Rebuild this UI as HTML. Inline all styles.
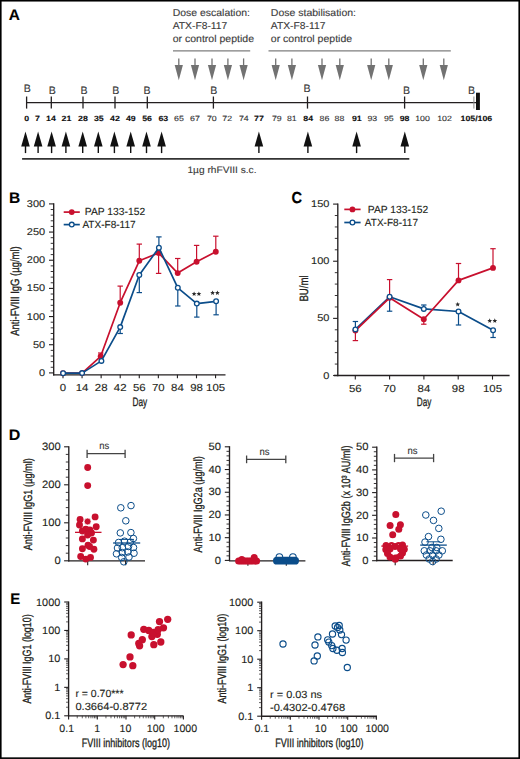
<!DOCTYPE html>
<html><head><meta charset="utf-8"><title>Figure</title>
<style>
html,body{margin:0;padding:0;background:#fff;}
body{width:520px;height:759px;overflow:hidden;font-family:"Liberation Sans",sans-serif;}
svg{display:block;font-family:"Liberation Sans",sans-serif;text-rendering:geometricPrecision;}
</style></head><body>
<svg width="520" height="759" viewBox="0 0 520 759">
<rect x="0" y="0" width="520" height="759" fill="#fff"/>
<rect x="0.8" y="0.75" width="518.4" height="757.4" fill="none" stroke="#000" stroke-width="1.6"/>
<text transform="translate(8.85,19.60) scale(1.007,1)" font-size="15.33" text-anchor="start" fill="#000" font-weight="bold" stroke="#000" stroke-width="0.12" >A</text>
<text transform="translate(172.70,16.30) scale(1.045,1)" font-size="10.0" text-anchor="start" fill="#3a3a3a" stroke="#3a3a3a" stroke-width="0.12" >Dose escalation:</text>
<text transform="translate(172.70,29.30) scale(1.030,1)" font-size="10.0" text-anchor="start" fill="#3a3a3a" stroke="#3a3a3a" stroke-width="0.12" >ATX-F8-117</text>
<text transform="translate(172.70,42.30) scale(1.052,1)" font-size="10.0" text-anchor="start" fill="#3a3a3a" stroke="#3a3a3a" stroke-width="0.12" >or control peptide</text>
<text transform="translate(270.80,16.40) scale(1.050,1)" font-size="10.0" text-anchor="start" fill="#3a3a3a" stroke="#3a3a3a" stroke-width="0.12" >Dose stabilisation:</text>
<text transform="translate(270.80,29.40) scale(1.030,1)" font-size="10.0" text-anchor="start" fill="#3a3a3a" stroke="#3a3a3a" stroke-width="0.12" >ATX-F8-117</text>
<text transform="translate(270.80,42.40) scale(1.052,1)" font-size="10.0" text-anchor="start" fill="#3a3a3a" stroke="#3a3a3a" stroke-width="0.12" >or control peptide</text>
<line x1="173.00" y1="50.90" x2="250.20" y2="50.90" stroke="#7e7e7e" stroke-width="1.4" />
<line x1="268.50" y1="50.90" x2="450.80" y2="50.90" stroke="#7e7e7e" stroke-width="1.4" />
<line x1="178.80" y1="58.40" x2="178.80" y2="66.00" stroke="#727272" stroke-width="1.3" />
<polygon points="174.70,65.00 182.90,65.00 178.80,80.20" fill="#727272"/>
<line x1="195.00" y1="58.40" x2="195.00" y2="66.00" stroke="#727272" stroke-width="1.3" />
<polygon points="190.90,65.00 199.10,65.00 195.00,80.20" fill="#727272"/>
<line x1="212.00" y1="58.40" x2="212.00" y2="66.00" stroke="#727272" stroke-width="1.3" />
<polygon points="207.90,65.00 216.10,65.00 212.00,80.20" fill="#727272"/>
<line x1="227.90" y1="58.40" x2="227.90" y2="66.00" stroke="#727272" stroke-width="1.3" />
<polygon points="223.80,65.00 232.00,65.00 227.90,80.20" fill="#727272"/>
<line x1="243.60" y1="58.40" x2="243.60" y2="66.00" stroke="#727272" stroke-width="1.3" />
<polygon points="239.50,65.00 247.70,65.00 243.60,80.20" fill="#727272"/>
<line x1="275.70" y1="58.40" x2="275.70" y2="66.00" stroke="#727272" stroke-width="1.3" />
<polygon points="271.60,65.00 279.80,65.00 275.70,80.20" fill="#727272"/>
<line x1="291.90" y1="58.40" x2="291.90" y2="66.00" stroke="#727272" stroke-width="1.3" />
<polygon points="287.80,65.00 296.00,65.00 291.90,80.20" fill="#727272"/>
<line x1="322.00" y1="58.40" x2="322.00" y2="66.00" stroke="#727272" stroke-width="1.3" />
<polygon points="317.90,65.00 326.10,65.00 322.00,80.20" fill="#727272"/>
<line x1="339.80" y1="58.40" x2="339.80" y2="66.00" stroke="#727272" stroke-width="1.3" />
<polygon points="335.70,65.00 343.90,65.00 339.80,80.20" fill="#727272"/>
<line x1="371.20" y1="58.40" x2="371.20" y2="66.00" stroke="#727272" stroke-width="1.3" />
<polygon points="367.10,65.00 375.30,65.00 371.20,80.20" fill="#727272"/>
<line x1="388.80" y1="58.40" x2="388.80" y2="66.00" stroke="#727272" stroke-width="1.3" />
<polygon points="384.70,65.00 392.90,65.00 388.80,80.20" fill="#727272"/>
<line x1="423.30" y1="58.40" x2="423.30" y2="66.00" stroke="#727272" stroke-width="1.3" />
<polygon points="419.20,65.00 427.40,65.00 423.30,80.20" fill="#727272"/>
<line x1="443.80" y1="58.40" x2="443.80" y2="66.00" stroke="#727272" stroke-width="1.3" />
<polygon points="439.70,65.00 447.90,65.00 443.80,80.20" fill="#727272"/>
<line x1="26.50" y1="102.60" x2="476.50" y2="102.60" stroke="#231f20" stroke-width="1.3" />
<line x1="26.60" y1="96.50" x2="26.60" y2="108.60" stroke="#231f20" stroke-width="1.3" />
<line x1="51.30" y1="96.50" x2="51.30" y2="108.60" stroke="#231f20" stroke-width="1.3" />
<line x1="83.00" y1="96.50" x2="83.00" y2="108.60" stroke="#231f20" stroke-width="1.3" />
<line x1="115.00" y1="96.50" x2="115.00" y2="108.60" stroke="#231f20" stroke-width="1.3" />
<line x1="147.30" y1="96.50" x2="147.30" y2="108.60" stroke="#231f20" stroke-width="1.3" />
<line x1="213.40" y1="96.50" x2="213.40" y2="108.60" stroke="#231f20" stroke-width="1.3" />
<line x1="307.50" y1="96.50" x2="307.50" y2="108.60" stroke="#231f20" stroke-width="1.3" />
<line x1="404.60" y1="96.50" x2="404.60" y2="108.60" stroke="#231f20" stroke-width="1.3" />
<line x1="473.90" y1="96.50" x2="473.90" y2="108.60" stroke="#8a8a8a" stroke-width="1.0" />
<rect x="476" y="92.7" width="3.9" height="17.3" fill="#111"/>
<text transform="translate(27.30,91.90) scale(0.980,1)" font-size="10.8" text-anchor="middle" fill="#3a3a3a" stroke="#3a3a3a" stroke-width="0.12" >B</text>
<text transform="translate(52.35,93.70) scale(0.980,1)" font-size="10.8" text-anchor="middle" fill="#3a3a3a" stroke="#3a3a3a" stroke-width="0.12" >B</text>
<text transform="translate(83.90,93.60) scale(0.980,1)" font-size="10.8" text-anchor="middle" fill="#3a3a3a" stroke="#3a3a3a" stroke-width="0.12" >B</text>
<text transform="translate(115.70,93.60) scale(0.980,1)" font-size="10.8" text-anchor="middle" fill="#3a3a3a" stroke="#3a3a3a" stroke-width="0.12" >B</text>
<text transform="translate(146.90,93.60) scale(0.980,1)" font-size="10.8" text-anchor="middle" fill="#3a3a3a" stroke="#3a3a3a" stroke-width="0.12" >B</text>
<text transform="translate(213.70,93.50) scale(0.980,1)" font-size="10.8" text-anchor="middle" fill="#3a3a3a" stroke="#3a3a3a" stroke-width="0.12" >B</text>
<text transform="translate(307.10,91.70) scale(0.980,1)" font-size="10.8" text-anchor="middle" fill="#3a3a3a" stroke="#3a3a3a" stroke-width="0.12" >B</text>
<text transform="translate(406.40,93.80) scale(0.980,1)" font-size="10.8" text-anchor="middle" fill="#3a3a3a" stroke="#3a3a3a" stroke-width="0.12" >B</text>
<text transform="translate(471.50,93.80) scale(0.980,1)" font-size="10.8" text-anchor="middle" fill="#3a3a3a" stroke="#3a3a3a" stroke-width="0.12" >B</text>
<text transform="translate(26.75,120.90) scale(1.170,1)" font-size="7.5" text-anchor="middle" fill="#111" font-weight="bold" stroke="#111" stroke-width="0.12" >0</text>
<text transform="translate(37.50,120.90) scale(1.170,1)" font-size="7.5" text-anchor="middle" fill="#111" font-weight="bold" stroke="#111" stroke-width="0.12" >7</text>
<text transform="translate(50.90,120.90) scale(1.170,1)" font-size="7.5" text-anchor="middle" fill="#111" font-weight="bold" stroke="#111" stroke-width="0.12" >14</text>
<text transform="translate(66.50,120.90) scale(1.170,1)" font-size="7.5" text-anchor="middle" fill="#111" font-weight="bold" stroke="#111" stroke-width="0.12" >21</text>
<text transform="translate(82.90,120.90) scale(1.170,1)" font-size="7.5" text-anchor="middle" fill="#111" font-weight="bold" stroke="#111" stroke-width="0.12" >28</text>
<text transform="translate(98.80,120.90) scale(1.170,1)" font-size="7.5" text-anchor="middle" fill="#111" font-weight="bold" stroke="#111" stroke-width="0.12" >35</text>
<text transform="translate(115.00,120.90) scale(1.170,1)" font-size="7.5" text-anchor="middle" fill="#111" font-weight="bold" stroke="#111" stroke-width="0.12" >42</text>
<text transform="translate(130.80,120.90) scale(1.170,1)" font-size="7.5" text-anchor="middle" fill="#111" font-weight="bold" stroke="#111" stroke-width="0.12" >49</text>
<text transform="translate(147.10,120.90) scale(1.170,1)" font-size="7.5" text-anchor="middle" fill="#111" font-weight="bold" stroke="#111" stroke-width="0.12" >56</text>
<text transform="translate(163.30,120.90) scale(1.170,1)" font-size="7.5" text-anchor="middle" fill="#111" font-weight="bold" stroke="#111" stroke-width="0.12" >63</text>
<text transform="translate(179.00,120.90) scale(1.170,1)" font-size="7.5" text-anchor="middle" fill="#333" stroke="#333" stroke-width="0.12" >65</text>
<text transform="translate(195.00,120.90) scale(1.170,1)" font-size="7.5" text-anchor="middle" fill="#333" stroke="#333" stroke-width="0.12" >67</text>
<text transform="translate(211.80,120.90) scale(1.170,1)" font-size="7.5" text-anchor="middle" fill="#333" stroke="#333" stroke-width="0.12" >70</text>
<text transform="translate(227.20,120.90) scale(1.170,1)" font-size="7.5" text-anchor="middle" fill="#333" stroke="#333" stroke-width="0.12" >72</text>
<text transform="translate(243.80,120.90) scale(1.170,1)" font-size="7.5" text-anchor="middle" fill="#333" stroke="#333" stroke-width="0.12" >74</text>
<text transform="translate(258.90,120.90) scale(1.170,1)" font-size="7.5" text-anchor="middle" fill="#111" font-weight="bold" stroke="#111" stroke-width="0.12" >77</text>
<text transform="translate(276.80,120.90) scale(1.170,1)" font-size="7.5" text-anchor="middle" fill="#333" stroke="#333" stroke-width="0.12" >79</text>
<text transform="translate(291.80,120.90) scale(1.170,1)" font-size="7.5" text-anchor="middle" fill="#333" stroke="#333" stroke-width="0.12" >81</text>
<text transform="translate(308.20,120.90) scale(1.170,1)" font-size="7.5" text-anchor="middle" fill="#111" font-weight="bold" stroke="#111" stroke-width="0.12" >84</text>
<text transform="translate(324.50,120.90) scale(1.170,1)" font-size="7.5" text-anchor="middle" fill="#333" stroke="#333" stroke-width="0.12" >86</text>
<text transform="translate(339.50,120.90) scale(1.170,1)" font-size="7.5" text-anchor="middle" fill="#333" stroke="#333" stroke-width="0.12" >88</text>
<text transform="translate(356.80,120.90) scale(1.170,1)" font-size="7.5" text-anchor="middle" fill="#111" font-weight="bold" stroke="#111" stroke-width="0.12" >91</text>
<text transform="translate(372.30,120.90) scale(1.170,1)" font-size="7.5" text-anchor="middle" fill="#333" stroke="#333" stroke-width="0.12" >93</text>
<text transform="translate(388.80,120.90) scale(1.170,1)" font-size="7.5" text-anchor="middle" fill="#333" stroke="#333" stroke-width="0.12" >95</text>
<text transform="translate(404.60,120.90) scale(1.170,1)" font-size="7.5" text-anchor="middle" fill="#111" font-weight="bold" stroke="#111" stroke-width="0.12" >98</text>
<text transform="translate(422.50,120.90) scale(1.170,1)" font-size="7.5" text-anchor="middle" fill="#333" stroke="#333" stroke-width="0.12" >100</text>
<text transform="translate(444.50,120.90) scale(1.170,1)" font-size="7.5" text-anchor="middle" fill="#333" stroke="#333" stroke-width="0.12" >102</text>
<text transform="translate(476.40,120.90) scale(1.170,1)" font-size="7.5" text-anchor="middle" fill="#111" font-weight="bold" stroke="#111" stroke-width="0.12" >105/106</text>
<polygon points="21.20,146.60 29.80,146.60 25.50,131.60" fill="#111"/>
<line x1="25.50" y1="146.00" x2="25.50" y2="153.10" stroke="#111" stroke-width="1.4" />
<polygon points="33.80,146.60 42.40,146.60 38.10,131.60" fill="#111"/>
<line x1="38.10" y1="146.00" x2="38.10" y2="153.10" stroke="#111" stroke-width="1.4" />
<polygon points="47.30,146.60 55.90,146.60 51.60,131.60" fill="#111"/>
<line x1="51.60" y1="146.00" x2="51.60" y2="153.10" stroke="#111" stroke-width="1.4" />
<polygon points="61.60,146.60 70.20,146.60 65.90,131.60" fill="#111"/>
<line x1="65.90" y1="146.00" x2="65.90" y2="153.10" stroke="#111" stroke-width="1.4" />
<polygon points="78.40,146.60 87.00,146.60 82.70,131.60" fill="#111"/>
<line x1="82.70" y1="146.00" x2="82.70" y2="153.10" stroke="#111" stroke-width="1.4" />
<polygon points="94.00,146.60 102.60,146.60 98.30,131.60" fill="#111"/>
<line x1="98.30" y1="146.00" x2="98.30" y2="153.10" stroke="#111" stroke-width="1.4" />
<polygon points="110.10,146.60 118.70,146.60 114.40,131.60" fill="#111"/>
<line x1="114.40" y1="146.00" x2="114.40" y2="153.10" stroke="#111" stroke-width="1.4" />
<polygon points="126.40,146.60 135.00,146.60 130.70,131.60" fill="#111"/>
<line x1="130.70" y1="146.00" x2="130.70" y2="153.10" stroke="#111" stroke-width="1.4" />
<polygon points="142.20,146.60 150.80,146.60 146.50,131.60" fill="#111"/>
<line x1="146.50" y1="146.00" x2="146.50" y2="153.10" stroke="#111" stroke-width="1.4" />
<polygon points="157.30,146.60 165.90,146.60 161.60,131.60" fill="#111"/>
<line x1="161.60" y1="146.00" x2="161.60" y2="153.10" stroke="#111" stroke-width="1.4" />
<polygon points="254.60,146.60 263.20,146.60 258.90,131.60" fill="#111"/>
<line x1="258.90" y1="146.00" x2="258.90" y2="153.10" stroke="#111" stroke-width="1.4" />
<polygon points="303.60,146.60 312.20,146.60 307.90,131.60" fill="#111"/>
<line x1="307.90" y1="146.00" x2="307.90" y2="153.10" stroke="#111" stroke-width="1.4" />
<polygon points="352.30,146.60 360.90,146.60 356.60,131.60" fill="#111"/>
<line x1="356.60" y1="146.00" x2="356.60" y2="153.10" stroke="#111" stroke-width="1.4" />
<polygon points="400.50,146.60 409.10,146.60 404.80,131.60" fill="#111"/>
<line x1="404.80" y1="146.00" x2="404.80" y2="153.10" stroke="#111" stroke-width="1.4" />
<line x1="22.10" y1="158.90" x2="409.30" y2="158.90" stroke="#333" stroke-width="1.9" />
<text transform="translate(187.40,173.00) scale(1.070,1)" font-size="9.5" text-anchor="start" fill="#3a3a3a" stroke="#3a3a3a" stroke-width="0.12" >1µg rhFVIII s.c.</text>
<text transform="translate(9.06,202.60) scale(1.016,1)" font-size="15.33" text-anchor="start" fill="#000" font-weight="bold" stroke="#000" stroke-width="0.12" >B</text>
<line x1="53.70" y1="203.30" x2="53.70" y2="375.40" stroke="#231f20" stroke-width="1.35" />
<line x1="49.00" y1="372.90" x2="53.70" y2="372.90" stroke="#231f20" stroke-width="1.1" />
<text transform="translate(45.10,375.90) scale(1.120,1)" font-size="9.8" text-anchor="end" fill="#231f20" stroke="#231f20" stroke-width="0.12" >0</text>
<line x1="50.70" y1="367.27" x2="53.70" y2="367.27" stroke="#231f20" stroke-width="0.9" />
<line x1="50.70" y1="361.63" x2="53.70" y2="361.63" stroke="#231f20" stroke-width="0.9" />
<line x1="50.70" y1="356.00" x2="53.70" y2="356.00" stroke="#231f20" stroke-width="0.9" />
<line x1="50.70" y1="350.37" x2="53.70" y2="350.37" stroke="#231f20" stroke-width="0.9" />
<line x1="49.00" y1="344.73" x2="53.70" y2="344.73" stroke="#231f20" stroke-width="1.1" />
<text transform="translate(45.10,347.73) scale(1.120,1)" font-size="9.8" text-anchor="end" fill="#231f20" stroke="#231f20" stroke-width="0.12" >50</text>
<line x1="50.70" y1="339.10" x2="53.70" y2="339.10" stroke="#231f20" stroke-width="0.9" />
<line x1="50.70" y1="333.47" x2="53.70" y2="333.47" stroke="#231f20" stroke-width="0.9" />
<line x1="50.70" y1="327.83" x2="53.70" y2="327.83" stroke="#231f20" stroke-width="0.9" />
<line x1="50.70" y1="322.20" x2="53.70" y2="322.20" stroke="#231f20" stroke-width="0.9" />
<line x1="49.00" y1="316.57" x2="53.70" y2="316.57" stroke="#231f20" stroke-width="1.1" />
<text transform="translate(45.10,319.57) scale(1.120,1)" font-size="9.8" text-anchor="end" fill="#231f20" stroke="#231f20" stroke-width="0.12" >100</text>
<line x1="50.70" y1="310.93" x2="53.70" y2="310.93" stroke="#231f20" stroke-width="0.9" />
<line x1="50.70" y1="305.30" x2="53.70" y2="305.30" stroke="#231f20" stroke-width="0.9" />
<line x1="50.70" y1="299.67" x2="53.70" y2="299.67" stroke="#231f20" stroke-width="0.9" />
<line x1="50.70" y1="294.03" x2="53.70" y2="294.03" stroke="#231f20" stroke-width="0.9" />
<line x1="49.00" y1="288.40" x2="53.70" y2="288.40" stroke="#231f20" stroke-width="1.1" />
<text transform="translate(45.10,291.40) scale(1.120,1)" font-size="9.8" text-anchor="end" fill="#231f20" stroke="#231f20" stroke-width="0.12" >150</text>
<line x1="50.70" y1="282.77" x2="53.70" y2="282.77" stroke="#231f20" stroke-width="0.9" />
<line x1="50.70" y1="277.13" x2="53.70" y2="277.13" stroke="#231f20" stroke-width="0.9" />
<line x1="50.70" y1="271.50" x2="53.70" y2="271.50" stroke="#231f20" stroke-width="0.9" />
<line x1="50.70" y1="265.87" x2="53.70" y2="265.87" stroke="#231f20" stroke-width="0.9" />
<line x1="49.00" y1="260.23" x2="53.70" y2="260.23" stroke="#231f20" stroke-width="1.1" />
<text transform="translate(45.10,263.23) scale(1.120,1)" font-size="9.8" text-anchor="end" fill="#231f20" stroke="#231f20" stroke-width="0.12" >200</text>
<line x1="50.70" y1="254.60" x2="53.70" y2="254.60" stroke="#231f20" stroke-width="0.9" />
<line x1="50.70" y1="248.97" x2="53.70" y2="248.97" stroke="#231f20" stroke-width="0.9" />
<line x1="50.70" y1="243.33" x2="53.70" y2="243.33" stroke="#231f20" stroke-width="0.9" />
<line x1="50.70" y1="237.70" x2="53.70" y2="237.70" stroke="#231f20" stroke-width="0.9" />
<line x1="49.00" y1="232.07" x2="53.70" y2="232.07" stroke="#231f20" stroke-width="1.1" />
<text transform="translate(45.10,235.07) scale(1.120,1)" font-size="9.8" text-anchor="end" fill="#231f20" stroke="#231f20" stroke-width="0.12" >250</text>
<line x1="50.70" y1="226.43" x2="53.70" y2="226.43" stroke="#231f20" stroke-width="0.9" />
<line x1="50.70" y1="220.80" x2="53.70" y2="220.80" stroke="#231f20" stroke-width="0.9" />
<line x1="50.70" y1="215.17" x2="53.70" y2="215.17" stroke="#231f20" stroke-width="0.9" />
<line x1="50.70" y1="209.53" x2="53.70" y2="209.53" stroke="#231f20" stroke-width="0.9" />
<line x1="49.00" y1="203.90" x2="53.70" y2="203.90" stroke="#231f20" stroke-width="1.1" />
<text transform="translate(45.10,206.90) scale(1.120,1)" font-size="9.8" text-anchor="end" fill="#231f20" stroke="#231f20" stroke-width="0.12" >300</text>
<line x1="53.10" y1="374.80" x2="225.50" y2="374.80" stroke="#231f20" stroke-width="1.35" />
<line x1="63.00" y1="374.80" x2="63.00" y2="378.30" stroke="#231f20" stroke-width="1.1" />
<text transform="translate(63.00,391.30) scale(1.120,1)" font-size="10.2" text-anchor="middle" fill="#231f20" stroke="#231f20" stroke-width="0.12" >0</text>
<line x1="82.07" y1="374.80" x2="82.07" y2="378.30" stroke="#231f20" stroke-width="1.1" />
<text transform="translate(82.07,391.30) scale(1.120,1)" font-size="10.2" text-anchor="middle" fill="#231f20" stroke="#231f20" stroke-width="0.12" >14</text>
<line x1="101.14" y1="374.80" x2="101.14" y2="378.30" stroke="#231f20" stroke-width="1.1" />
<text transform="translate(101.14,391.30) scale(1.120,1)" font-size="10.2" text-anchor="middle" fill="#231f20" stroke="#231f20" stroke-width="0.12" >28</text>
<line x1="120.21" y1="374.80" x2="120.21" y2="378.30" stroke="#231f20" stroke-width="1.1" />
<text transform="translate(120.21,391.30) scale(1.120,1)" font-size="10.2" text-anchor="middle" fill="#231f20" stroke="#231f20" stroke-width="0.12" >42</text>
<line x1="139.28" y1="374.80" x2="139.28" y2="378.30" stroke="#231f20" stroke-width="1.1" />
<text transform="translate(139.28,391.30) scale(1.120,1)" font-size="10.2" text-anchor="middle" fill="#231f20" stroke="#231f20" stroke-width="0.12" >56</text>
<line x1="158.35" y1="374.80" x2="158.35" y2="378.30" stroke="#231f20" stroke-width="1.1" />
<text transform="translate(158.35,391.30) scale(1.120,1)" font-size="10.2" text-anchor="middle" fill="#231f20" stroke="#231f20" stroke-width="0.12" >70</text>
<line x1="177.42" y1="374.80" x2="177.42" y2="378.30" stroke="#231f20" stroke-width="1.1" />
<text transform="translate(177.42,391.30) scale(1.120,1)" font-size="10.2" text-anchor="middle" fill="#231f20" stroke="#231f20" stroke-width="0.12" >84</text>
<line x1="196.49" y1="374.80" x2="196.49" y2="378.30" stroke="#231f20" stroke-width="1.1" />
<text transform="translate(196.49,391.30) scale(1.120,1)" font-size="10.2" text-anchor="middle" fill="#231f20" stroke="#231f20" stroke-width="0.12" >98</text>
<line x1="215.56" y1="374.80" x2="215.56" y2="378.30" stroke="#231f20" stroke-width="1.1" />
<text transform="translate(215.56,391.30) scale(1.120,1)" font-size="10.2" text-anchor="middle" fill="#231f20" stroke="#231f20" stroke-width="0.12" >105</text>
<text transform="translate(139.85,405.70)" font-size="12.2" text-anchor="middle" fill="#231f20" textLength="14.7" lengthAdjust="spacingAndGlyphs" stroke="#231f20" stroke-width="0.32">Day</text>
<text transform="translate(19.00,291.05) rotate(-90)" font-size="12.0" text-anchor="middle" fill="#231f20" textLength="89.5" lengthAdjust="spacingAndGlyphs" stroke="#231f20" stroke-width="0.32">Anti-FVIII IgG (µg/ml)</text>
<line x1="100.70" y1="356.30" x2="100.70" y2="353.00" stroke="#c8102e" stroke-width="1.2" />
<line x1="98.00" y1="353.00" x2="103.40" y2="353.00" stroke="#c8102e" stroke-width="1.2" />
<line x1="120.20" y1="302.70" x2="120.20" y2="286.10" stroke="#c8102e" stroke-width="1.2" />
<line x1="117.50" y1="286.10" x2="122.90" y2="286.10" stroke="#c8102e" stroke-width="1.2" />
<line x1="139.30" y1="260.80" x2="139.30" y2="244.10" stroke="#c8102e" stroke-width="1.2" />
<line x1="136.60" y1="244.10" x2="142.00" y2="244.10" stroke="#c8102e" stroke-width="1.2" />
<line x1="158.60" y1="253.00" x2="158.60" y2="273.40" stroke="#c8102e" stroke-width="1.2" />
<line x1="155.90" y1="273.40" x2="161.30" y2="273.40" stroke="#c8102e" stroke-width="1.2" />
<line x1="177.70" y1="273.10" x2="177.70" y2="258.50" stroke="#c8102e" stroke-width="1.2" />
<line x1="175.00" y1="258.50" x2="180.40" y2="258.50" stroke="#c8102e" stroke-width="1.2" />
<line x1="196.60" y1="261.80" x2="196.60" y2="245.40" stroke="#c8102e" stroke-width="1.2" />
<line x1="193.90" y1="245.40" x2="199.30" y2="245.40" stroke="#c8102e" stroke-width="1.2" />
<line x1="215.80" y1="251.80" x2="215.80" y2="236.20" stroke="#c8102e" stroke-width="1.2" />
<line x1="213.10" y1="236.20" x2="218.50" y2="236.20" stroke="#c8102e" stroke-width="1.2" />
<line x1="120.20" y1="327.10" x2="120.20" y2="333.50" stroke="#0b4d8a" stroke-width="1.2" />
<line x1="117.50" y1="333.50" x2="122.90" y2="333.50" stroke="#0b4d8a" stroke-width="1.2" />
<line x1="139.30" y1="275.00" x2="139.30" y2="292.60" stroke="#0b4d8a" stroke-width="1.2" />
<line x1="136.60" y1="292.60" x2="142.00" y2="292.60" stroke="#0b4d8a" stroke-width="1.2" />
<line x1="158.90" y1="247.70" x2="158.90" y2="236.90" stroke="#0b4d8a" stroke-width="1.2" />
<line x1="156.20" y1="236.90" x2="161.60" y2="236.90" stroke="#0b4d8a" stroke-width="1.2" />
<line x1="177.80" y1="287.80" x2="177.80" y2="306.00" stroke="#0b4d8a" stroke-width="1.2" />
<line x1="175.10" y1="306.00" x2="180.50" y2="306.00" stroke="#0b4d8a" stroke-width="1.2" />
<line x1="196.80" y1="303.60" x2="196.80" y2="317.10" stroke="#0b4d8a" stroke-width="1.2" />
<line x1="194.10" y1="317.10" x2="199.50" y2="317.10" stroke="#0b4d8a" stroke-width="1.2" />
<line x1="216.10" y1="301.30" x2="216.10" y2="314.80" stroke="#0b4d8a" stroke-width="1.2" />
<line x1="213.40" y1="314.80" x2="218.80" y2="314.80" stroke="#0b4d8a" stroke-width="1.2" />
<path d="M63.00,373.20 L82.10,373.10 L100.70,356.30 L120.20,302.70 L139.30,260.80 L158.60,253.00 L177.70,273.10 L196.60,261.80 L215.80,251.80" fill="none" stroke="#c8102e" stroke-width="1.7" stroke-linejoin="round"/>
<circle cx="63.00" cy="373.20" r="2.95" fill="#c8102e" stroke="none" stroke-width="0"/>
<circle cx="82.10" cy="373.10" r="2.95" fill="#c8102e" stroke="none" stroke-width="0"/>
<circle cx="100.70" cy="356.30" r="2.95" fill="#c8102e" stroke="none" stroke-width="0"/>
<circle cx="120.20" cy="302.70" r="2.95" fill="#c8102e" stroke="none" stroke-width="0"/>
<circle cx="139.30" cy="260.80" r="2.95" fill="#c8102e" stroke="none" stroke-width="0"/>
<circle cx="158.60" cy="253.00" r="2.95" fill="#c8102e" stroke="none" stroke-width="0"/>
<circle cx="177.70" cy="273.10" r="2.95" fill="#c8102e" stroke="none" stroke-width="0"/>
<circle cx="196.60" cy="261.80" r="2.95" fill="#c8102e" stroke="none" stroke-width="0"/>
<circle cx="215.80" cy="251.80" r="2.95" fill="#c8102e" stroke="none" stroke-width="0"/>
<path d="M63.10,373.20 L82.10,373.10 L101.40,360.90 L120.20,327.10 L139.30,275.00 L158.90,247.70 L177.80,287.80 L196.80,303.60 L216.10,301.30" fill="none" stroke="#0b4d8a" stroke-width="1.7" stroke-linejoin="round"/>
<circle cx="63.10" cy="373.20" r="2.35" fill="#fff" stroke="#0b4d8a" stroke-width="1.3"/>
<circle cx="82.10" cy="373.10" r="2.35" fill="#fff" stroke="#0b4d8a" stroke-width="1.3"/>
<circle cx="101.40" cy="360.90" r="2.35" fill="#fff" stroke="#0b4d8a" stroke-width="1.3"/>
<circle cx="120.20" cy="327.10" r="2.35" fill="#fff" stroke="#0b4d8a" stroke-width="1.3"/>
<circle cx="139.30" cy="275.00" r="2.35" fill="#fff" stroke="#0b4d8a" stroke-width="1.3"/>
<circle cx="158.90" cy="247.70" r="2.35" fill="#fff" stroke="#0b4d8a" stroke-width="1.3"/>
<circle cx="177.80" cy="287.80" r="2.35" fill="#fff" stroke="#0b4d8a" stroke-width="1.3"/>
<circle cx="196.80" cy="303.60" r="2.35" fill="#fff" stroke="#0b4d8a" stroke-width="1.3"/>
<circle cx="216.10" cy="301.30" r="2.35" fill="#fff" stroke="#0b4d8a" stroke-width="1.3"/>
<polygon points="194.10,291.40 194.76,292.99 196.48,293.13 195.17,294.25 195.57,295.92 194.10,295.02 192.63,295.92 193.03,294.25 191.72,293.13 193.44,292.99" fill="#2a2a2a"/>
<polygon points="198.90,291.40 199.56,292.99 201.28,293.13 199.97,294.25 200.37,295.92 198.90,295.02 197.43,295.92 197.83,294.25 196.52,293.13 198.24,292.99" fill="#2a2a2a"/>
<polygon points="212.60,290.50 213.26,292.09 214.98,292.23 213.67,293.35 214.07,295.02 212.60,294.12 211.13,295.02 211.53,293.35 210.22,292.23 211.94,292.09" fill="#2a2a2a"/>
<polygon points="217.40,290.50 218.06,292.09 219.78,292.23 218.47,293.35 218.87,295.02 217.40,294.12 215.93,295.02 216.33,293.35 215.02,292.23 216.74,292.09" fill="#2a2a2a"/>
<line x1="63.70" y1="212.10" x2="79.80" y2="212.10" stroke="#c8102e" stroke-width="1.7" />
<circle cx="71.75" cy="212.10" r="2.9" fill="#c8102e" stroke="none" stroke-width="0"/>
<line x1="63.70" y1="224.60" x2="79.80" y2="224.60" stroke="#0b4d8a" stroke-width="1.7" />
<circle cx="71.75" cy="224.60" r="2.35" fill="#fff" stroke="#0b4d8a" stroke-width="1.3"/>
<text transform="translate(84.80,215.20)" font-size="10.3" text-anchor="start" fill="#231f20" stroke="#231f20" stroke-width="0.12" >PAP 133-152</text>
<text transform="translate(82.40,227.70) scale(0.975,1)" font-size="10.3" text-anchor="start" fill="#231f20" stroke="#231f20" stroke-width="0.12" >ATX-F8-117</text>
<text transform="translate(291.60,202.84) scale(0.920,1)" font-size="15.96" text-anchor="start" fill="#000" font-weight="bold" stroke="#000" stroke-width="0.12" >C</text>
<line x1="337.80" y1="203.50" x2="337.80" y2="376.20" stroke="#231f20" stroke-width="1.35" />
<line x1="333.10" y1="375.50" x2="337.80" y2="375.50" stroke="#231f20" stroke-width="1.1" />
<text transform="translate(329.40,378.50) scale(1.120,1)" font-size="9.8" text-anchor="end" fill="#231f20" stroke="#231f20" stroke-width="0.12" >0</text>
<line x1="334.80" y1="364.07" x2="337.80" y2="364.07" stroke="#231f20" stroke-width="0.9" />
<line x1="334.80" y1="352.65" x2="337.80" y2="352.65" stroke="#231f20" stroke-width="0.9" />
<line x1="334.80" y1="341.22" x2="337.80" y2="341.22" stroke="#231f20" stroke-width="0.9" />
<line x1="334.80" y1="329.79" x2="337.80" y2="329.79" stroke="#231f20" stroke-width="0.9" />
<line x1="333.10" y1="318.37" x2="337.80" y2="318.37" stroke="#231f20" stroke-width="1.1" />
<text transform="translate(329.40,321.37) scale(1.120,1)" font-size="9.8" text-anchor="end" fill="#231f20" stroke="#231f20" stroke-width="0.12" >50</text>
<line x1="334.80" y1="306.94" x2="337.80" y2="306.94" stroke="#231f20" stroke-width="0.9" />
<line x1="334.80" y1="295.51" x2="337.80" y2="295.51" stroke="#231f20" stroke-width="0.9" />
<line x1="334.80" y1="284.09" x2="337.80" y2="284.09" stroke="#231f20" stroke-width="0.9" />
<line x1="334.80" y1="272.66" x2="337.80" y2="272.66" stroke="#231f20" stroke-width="0.9" />
<line x1="333.10" y1="261.23" x2="337.80" y2="261.23" stroke="#231f20" stroke-width="1.1" />
<text transform="translate(329.40,264.23) scale(1.120,1)" font-size="9.8" text-anchor="end" fill="#231f20" stroke="#231f20" stroke-width="0.12" >100</text>
<line x1="334.80" y1="249.81" x2="337.80" y2="249.81" stroke="#231f20" stroke-width="0.9" />
<line x1="334.80" y1="238.38" x2="337.80" y2="238.38" stroke="#231f20" stroke-width="0.9" />
<line x1="334.80" y1="226.95" x2="337.80" y2="226.95" stroke="#231f20" stroke-width="0.9" />
<line x1="334.80" y1="215.53" x2="337.80" y2="215.53" stroke="#231f20" stroke-width="0.9" />
<line x1="333.10" y1="204.10" x2="337.80" y2="204.10" stroke="#231f20" stroke-width="1.1" />
<text transform="translate(329.40,207.10) scale(1.120,1)" font-size="9.8" text-anchor="end" fill="#231f20" stroke="#231f20" stroke-width="0.12" >150</text>
<line x1="334.00" y1="375.50" x2="509.60" y2="375.50" stroke="#231f20" stroke-width="1.35" />
<line x1="355.30" y1="375.50" x2="355.30" y2="379.60" stroke="#231f20" stroke-width="1.1" />
<text transform="translate(355.30,392.20) scale(1.120,1)" font-size="10.2" text-anchor="middle" fill="#231f20" stroke="#231f20" stroke-width="0.12" >56</text>
<line x1="389.60" y1="375.50" x2="389.60" y2="379.60" stroke="#231f20" stroke-width="1.1" />
<text transform="translate(389.60,392.20) scale(1.120,1)" font-size="10.2" text-anchor="middle" fill="#231f20" stroke="#231f20" stroke-width="0.12" >70</text>
<line x1="423.90" y1="375.50" x2="423.90" y2="379.60" stroke="#231f20" stroke-width="1.1" />
<text transform="translate(423.90,392.20) scale(1.120,1)" font-size="10.2" text-anchor="middle" fill="#231f20" stroke="#231f20" stroke-width="0.12" >84</text>
<line x1="458.20" y1="375.50" x2="458.20" y2="379.60" stroke="#231f20" stroke-width="1.1" />
<text transform="translate(458.20,392.20) scale(1.120,1)" font-size="10.2" text-anchor="middle" fill="#231f20" stroke="#231f20" stroke-width="0.12" >98</text>
<line x1="492.50" y1="375.50" x2="492.50" y2="379.60" stroke="#231f20" stroke-width="1.1" />
<text transform="translate(492.50,392.20) scale(1.120,1)" font-size="10.2" text-anchor="middle" fill="#231f20" stroke="#231f20" stroke-width="0.12" >105</text>
<text transform="translate(424.00,405.70)" font-size="12.2" text-anchor="middle" fill="#231f20" textLength="14.6" lengthAdjust="spacingAndGlyphs" stroke="#231f20" stroke-width="0.32">Day</text>
<text transform="translate(307.70,288.45) rotate(-90)" font-size="12.0" text-anchor="middle" fill="#231f20" textLength="26.3" lengthAdjust="spacingAndGlyphs" stroke="#231f20" stroke-width="0.32">BU/ml</text>
<line x1="355.40" y1="329.40" x2="355.40" y2="321.50" stroke="#0b4d8a" stroke-width="1.2" />
<line x1="352.70" y1="321.50" x2="358.10" y2="321.50" stroke="#0b4d8a" stroke-width="1.2" />
<line x1="389.60" y1="296.80" x2="389.60" y2="311.20" stroke="#0b4d8a" stroke-width="1.2" />
<line x1="386.90" y1="311.20" x2="392.30" y2="311.20" stroke="#0b4d8a" stroke-width="1.2" />
<line x1="423.80" y1="308.90" x2="423.80" y2="305.00" stroke="#0b4d8a" stroke-width="1.2" />
<line x1="421.10" y1="305.00" x2="426.50" y2="305.00" stroke="#0b4d8a" stroke-width="1.2" />
<line x1="458.50" y1="311.50" x2="458.50" y2="325.00" stroke="#0b4d8a" stroke-width="1.2" />
<line x1="455.80" y1="325.00" x2="461.20" y2="325.00" stroke="#0b4d8a" stroke-width="1.2" />
<line x1="493.10" y1="330.20" x2="493.10" y2="337.50" stroke="#0b4d8a" stroke-width="1.2" />
<line x1="490.40" y1="337.50" x2="495.80" y2="337.50" stroke="#0b4d8a" stroke-width="1.2" />
<line x1="355.40" y1="330.60" x2="355.40" y2="340.60" stroke="#c8102e" stroke-width="1.2" />
<line x1="352.70" y1="340.60" x2="358.10" y2="340.60" stroke="#c8102e" stroke-width="1.2" />
<line x1="389.60" y1="297.80" x2="389.60" y2="279.60" stroke="#c8102e" stroke-width="1.2" />
<line x1="386.90" y1="279.60" x2="392.30" y2="279.60" stroke="#c8102e" stroke-width="1.2" />
<line x1="423.80" y1="319.30" x2="423.80" y2="324.20" stroke="#c8102e" stroke-width="1.2" />
<line x1="421.10" y1="324.20" x2="426.50" y2="324.20" stroke="#c8102e" stroke-width="1.2" />
<line x1="458.50" y1="280.40" x2="458.50" y2="263.50" stroke="#c8102e" stroke-width="1.2" />
<line x1="455.80" y1="263.50" x2="461.20" y2="263.50" stroke="#c8102e" stroke-width="1.2" />
<line x1="493.00" y1="267.90" x2="493.00" y2="248.70" stroke="#c8102e" stroke-width="1.2" />
<line x1="490.30" y1="248.70" x2="495.70" y2="248.70" stroke="#c8102e" stroke-width="1.2" />
<path d="M355.40,329.40 L389.60,296.80 L423.80,308.90 L458.50,311.50 L493.10,330.20" fill="none" stroke="#0b4d8a" stroke-width="1.7" stroke-linejoin="round"/>
<path d="M355.40,330.60 L389.60,297.80 L423.80,319.30 L458.50,280.40 L493.00,267.90" fill="none" stroke="#c8102e" stroke-width="1.7" stroke-linejoin="round"/>
<circle cx="355.40" cy="330.60" r="2.95" fill="#c8102e" stroke="none" stroke-width="0"/>
<circle cx="389.60" cy="297.80" r="2.95" fill="#c8102e" stroke="none" stroke-width="0"/>
<circle cx="423.80" cy="319.30" r="2.95" fill="#c8102e" stroke="none" stroke-width="0"/>
<circle cx="458.50" cy="280.40" r="2.95" fill="#c8102e" stroke="none" stroke-width="0"/>
<circle cx="493.00" cy="267.90" r="2.95" fill="#c8102e" stroke="none" stroke-width="0"/>
<circle cx="355.40" cy="329.40" r="2.35" fill="#fff" stroke="#0b4d8a" stroke-width="1.3"/>
<circle cx="389.60" cy="296.80" r="2.35" fill="#fff" stroke="#0b4d8a" stroke-width="1.3"/>
<circle cx="423.80" cy="308.90" r="2.35" fill="#fff" stroke="#0b4d8a" stroke-width="1.3"/>
<circle cx="458.50" cy="311.50" r="2.35" fill="#fff" stroke="#0b4d8a" stroke-width="1.3"/>
<circle cx="493.10" cy="330.20" r="2.35" fill="#fff" stroke="#0b4d8a" stroke-width="1.3"/>
<polygon points="457.70,301.90 458.36,303.49 460.08,303.63 458.77,304.75 459.17,306.42 457.70,305.52 456.23,306.42 456.63,304.75 455.32,303.63 457.04,303.49" fill="#2a2a2a"/>
<polygon points="489.70,318.30 490.36,319.89 492.08,320.03 490.77,321.15 491.17,322.82 489.70,321.93 488.23,322.82 488.63,321.15 487.32,320.03 489.04,319.89" fill="#2a2a2a"/>
<polygon points="494.80,318.30 495.46,319.89 497.18,320.03 495.87,321.15 496.27,322.82 494.80,321.93 493.33,322.82 493.73,321.15 492.42,320.03 494.14,319.89" fill="#2a2a2a"/>
<line x1="344.30" y1="209.40" x2="360.60" y2="209.40" stroke="#c8102e" stroke-width="1.7" />
<circle cx="352.45" cy="209.40" r="2.9" fill="#c8102e" stroke="none" stroke-width="0"/>
<line x1="344.30" y1="222.50" x2="360.60" y2="222.50" stroke="#0b4d8a" stroke-width="1.7" />
<circle cx="352.45" cy="222.50" r="2.35" fill="#fff" stroke="#0b4d8a" stroke-width="1.3"/>
<text transform="translate(367.80,212.50)" font-size="10.3" text-anchor="start" fill="#231f20" stroke="#231f20" stroke-width="0.12" >PAP 133-152</text>
<text transform="translate(364.80,225.60) scale(0.975,1)" font-size="10.3" text-anchor="start" fill="#231f20" stroke="#231f20" stroke-width="0.12" >ATX-F8-117</text>
<text transform="translate(8.73,439.60) scale(1.043,1)" font-size="15.33" text-anchor="start" fill="#000" font-weight="bold" stroke="#000" stroke-width="0.12" >D</text>
<line x1="68.80" y1="446.20" x2="68.80" y2="561.40" stroke="#231f20" stroke-width="1.35" />
<line x1="64.10" y1="560.80" x2="68.80" y2="560.80" stroke="#231f20" stroke-width="1.1" />
<text transform="translate(60.80,563.70) scale(1.060,1)" font-size="10.6" text-anchor="end" fill="#231f20" stroke="#231f20" stroke-width="0.12" >0</text>
<line x1="65.80" y1="553.20" x2="68.80" y2="553.20" stroke="#231f20" stroke-width="0.9" />
<line x1="65.80" y1="545.60" x2="68.80" y2="545.60" stroke="#231f20" stroke-width="0.9" />
<line x1="65.80" y1="538.00" x2="68.80" y2="538.00" stroke="#231f20" stroke-width="0.9" />
<line x1="65.80" y1="530.40" x2="68.80" y2="530.40" stroke="#231f20" stroke-width="0.9" />
<line x1="64.10" y1="522.80" x2="68.80" y2="522.80" stroke="#231f20" stroke-width="1.1" />
<text transform="translate(60.80,525.70) scale(1.060,1)" font-size="10.6" text-anchor="end" fill="#231f20" stroke="#231f20" stroke-width="0.12" >100</text>
<line x1="65.80" y1="515.20" x2="68.80" y2="515.20" stroke="#231f20" stroke-width="0.9" />
<line x1="65.80" y1="507.60" x2="68.80" y2="507.60" stroke="#231f20" stroke-width="0.9" />
<line x1="65.80" y1="500.00" x2="68.80" y2="500.00" stroke="#231f20" stroke-width="0.9" />
<line x1="65.80" y1="492.40" x2="68.80" y2="492.40" stroke="#231f20" stroke-width="0.9" />
<line x1="64.10" y1="484.80" x2="68.80" y2="484.80" stroke="#231f20" stroke-width="1.1" />
<text transform="translate(60.80,487.70) scale(1.060,1)" font-size="10.6" text-anchor="end" fill="#231f20" stroke="#231f20" stroke-width="0.12" >200</text>
<line x1="65.80" y1="477.20" x2="68.80" y2="477.20" stroke="#231f20" stroke-width="0.9" />
<line x1="65.80" y1="469.60" x2="68.80" y2="469.60" stroke="#231f20" stroke-width="0.9" />
<line x1="65.80" y1="462.00" x2="68.80" y2="462.00" stroke="#231f20" stroke-width="0.9" />
<line x1="65.80" y1="454.40" x2="68.80" y2="454.40" stroke="#231f20" stroke-width="0.9" />
<line x1="64.10" y1="446.80" x2="68.80" y2="446.80" stroke="#231f20" stroke-width="1.1" />
<text transform="translate(60.80,449.70) scale(1.060,1)" font-size="10.6" text-anchor="end" fill="#231f20" stroke="#231f20" stroke-width="0.12" >300</text>
<line x1="68.20" y1="560.80" x2="145.00" y2="560.80" stroke="#231f20" stroke-width="1.35" />
<line x1="87.70" y1="560.80" x2="87.70" y2="565.30" stroke="#231f20" stroke-width="1.1" />
<line x1="125.60" y1="560.80" x2="125.60" y2="565.30" stroke="#231f20" stroke-width="1.1" />
<text transform="translate(32.30,504.25) rotate(-90)" font-size="12.0" text-anchor="middle" fill="#231f20" textLength="92.1" lengthAdjust="spacingAndGlyphs" stroke="#231f20" stroke-width="0.32">Anti-FVIII IgG1 (µg/ml)</text>
<line x1="87.10" y1="453.60" x2="125.10" y2="453.60" stroke="#444" stroke-width="1.3" />
<line x1="87.10" y1="449.80" x2="87.10" y2="457.90" stroke="#444" stroke-width="1.3" />
<line x1="125.10" y1="449.80" x2="125.10" y2="457.90" stroke="#444" stroke-width="1.3" />
<text transform="translate(104.30,449.00)" font-size="10.0" text-anchor="middle" fill="#333" stroke="#333" stroke-width="0.12" textLength="10.0" lengthAdjust="spacingAndGlyphs" >ns</text>
<circle cx="87.70" cy="467.50" r="3.45" fill="#c8102e" stroke="none" stroke-width="0"/>
<circle cx="87.70" cy="485.60" r="3.45" fill="#c8102e" stroke="none" stroke-width="0"/>
<circle cx="80.70" cy="556.50" r="3.45" fill="#c8102e" stroke="none" stroke-width="0"/>
<circle cx="85.80" cy="559.10" r="3.45" fill="#c8102e" stroke="none" stroke-width="0"/>
<circle cx="90.50" cy="557.40" r="3.45" fill="#c8102e" stroke="none" stroke-width="0"/>
<circle cx="82.40" cy="548.70" r="3.45" fill="#c8102e" stroke="none" stroke-width="0"/>
<circle cx="93.90" cy="549.30" r="3.45" fill="#c8102e" stroke="none" stroke-width="0"/>
<circle cx="88.00" cy="545.20" r="3.45" fill="#c8102e" stroke="none" stroke-width="0"/>
<circle cx="89.60" cy="546.50" r="3.45" fill="#c8102e" stroke="none" stroke-width="0"/>
<circle cx="82.40" cy="538.90" r="3.45" fill="#c8102e" stroke="none" stroke-width="0"/>
<circle cx="93.40" cy="540.10" r="3.45" fill="#c8102e" stroke="none" stroke-width="0"/>
<circle cx="87.60" cy="535.00" r="3.45" fill="#c8102e" stroke="none" stroke-width="0"/>
<circle cx="85.80" cy="529.30" r="3.45" fill="#c8102e" stroke="none" stroke-width="0"/>
<circle cx="89.90" cy="529.90" r="3.45" fill="#c8102e" stroke="none" stroke-width="0"/>
<circle cx="82.40" cy="531.00" r="3.45" fill="#c8102e" stroke="none" stroke-width="0"/>
<circle cx="91.50" cy="533.00" r="3.45" fill="#c8102e" stroke="none" stroke-width="0"/>
<circle cx="79.50" cy="525.00" r="3.45" fill="#c8102e" stroke="none" stroke-width="0"/>
<circle cx="96.20" cy="526.70" r="3.45" fill="#c8102e" stroke="none" stroke-width="0"/>
<circle cx="80.10" cy="519.50" r="3.45" fill="#c8102e" stroke="none" stroke-width="0"/>
<circle cx="95.10" cy="516.90" r="3.45" fill="#c8102e" stroke="none" stroke-width="0"/>
<circle cx="87.60" cy="521.50" r="3.45" fill="#c8102e" stroke="#fff" stroke-width="0.7"/>
<line x1="75.00" y1="532.35" x2="101.50" y2="532.35" stroke="#c8102e" stroke-width="1.3" />
<circle cx="120.80" cy="507.80" r="3.3" fill="none" stroke="#0b4d8a" stroke-width="1.0"/>
<circle cx="131.00" cy="505.60" r="3.3" fill="none" stroke="#0b4d8a" stroke-width="1.0"/>
<circle cx="125.80" cy="520.80" r="3.3" fill="none" stroke="#0b4d8a" stroke-width="1.0"/>
<circle cx="120.30" cy="532.90" r="3.3" fill="none" stroke="#0b4d8a" stroke-width="1.0"/>
<circle cx="130.90" cy="532.60" r="3.3" fill="none" stroke="#0b4d8a" stroke-width="1.0"/>
<circle cx="133.40" cy="538.50" r="3.3" fill="none" stroke="#0b4d8a" stroke-width="1.0"/>
<circle cx="118.60" cy="542.50" r="3.3" fill="none" stroke="#0b4d8a" stroke-width="1.0"/>
<circle cx="124.50" cy="541.20" r="3.3" fill="none" stroke="#0b4d8a" stroke-width="1.0"/>
<circle cx="130.30" cy="542.20" r="3.3" fill="none" stroke="#0b4d8a" stroke-width="1.0"/>
<circle cx="122.30" cy="547.70" r="3.3" fill="none" stroke="#0b4d8a" stroke-width="1.0"/>
<circle cx="128.50" cy="546.50" r="3.3" fill="none" stroke="#0b4d8a" stroke-width="1.0"/>
<circle cx="117.50" cy="548.00" r="3.3" fill="none" stroke="#0b4d8a" stroke-width="1.0"/>
<circle cx="133.50" cy="547.50" r="3.3" fill="none" stroke="#0b4d8a" stroke-width="1.0"/>
<circle cx="116.50" cy="553.80" r="3.3" fill="none" stroke="#0b4d8a" stroke-width="1.0"/>
<circle cx="122.30" cy="552.60" r="3.3" fill="none" stroke="#0b4d8a" stroke-width="1.0"/>
<circle cx="127.80" cy="552.00" r="3.3" fill="none" stroke="#0b4d8a" stroke-width="1.0"/>
<circle cx="134.00" cy="553.20" r="3.3" fill="none" stroke="#0b4d8a" stroke-width="1.0"/>
<circle cx="121.70" cy="557.50" r="3.3" fill="none" stroke="#0b4d8a" stroke-width="1.0"/>
<circle cx="129.00" cy="557.00" r="3.3" fill="none" stroke="#0b4d8a" stroke-width="1.0"/>
<circle cx="123.80" cy="561.80" r="3.3" fill="none" stroke="#0b4d8a" stroke-width="1.0"/>
<line x1="113.10" y1="543.00" x2="140.20" y2="543.00" stroke="#0b4d8a" stroke-width="1.3" />
<line x1="119.50" y1="539.40" x2="134.00" y2="539.40" stroke="#0b4d8a" stroke-width="1.0" />
<line x1="229.50" y1="446.20" x2="229.50" y2="561.00" stroke="#231f20" stroke-width="1.35" />
<line x1="224.80" y1="560.40" x2="229.50" y2="560.40" stroke="#231f20" stroke-width="1.1" />
<text transform="translate(221.00,563.60) scale(1.070,1)" font-size="10.5" text-anchor="end" fill="#231f20" stroke="#231f20" stroke-width="0.12" >0</text>
<line x1="226.50" y1="555.86" x2="229.50" y2="555.86" stroke="#231f20" stroke-width="0.9" />
<line x1="226.50" y1="551.31" x2="229.50" y2="551.31" stroke="#231f20" stroke-width="0.9" />
<line x1="226.50" y1="546.77" x2="229.50" y2="546.77" stroke="#231f20" stroke-width="0.9" />
<line x1="226.50" y1="542.22" x2="229.50" y2="542.22" stroke="#231f20" stroke-width="0.9" />
<line x1="224.80" y1="537.68" x2="229.50" y2="537.68" stroke="#231f20" stroke-width="1.1" />
<text transform="translate(221.00,540.88) scale(1.070,1)" font-size="10.5" text-anchor="end" fill="#231f20" stroke="#231f20" stroke-width="0.12" >10</text>
<line x1="226.50" y1="533.14" x2="229.50" y2="533.14" stroke="#231f20" stroke-width="0.9" />
<line x1="226.50" y1="528.59" x2="229.50" y2="528.59" stroke="#231f20" stroke-width="0.9" />
<line x1="226.50" y1="524.05" x2="229.50" y2="524.05" stroke="#231f20" stroke-width="0.9" />
<line x1="226.50" y1="519.50" x2="229.50" y2="519.50" stroke="#231f20" stroke-width="0.9" />
<line x1="224.80" y1="514.96" x2="229.50" y2="514.96" stroke="#231f20" stroke-width="1.1" />
<text transform="translate(221.00,518.16) scale(1.070,1)" font-size="10.5" text-anchor="end" fill="#231f20" stroke="#231f20" stroke-width="0.12" >20</text>
<line x1="226.50" y1="510.42" x2="229.50" y2="510.42" stroke="#231f20" stroke-width="0.9" />
<line x1="226.50" y1="505.87" x2="229.50" y2="505.87" stroke="#231f20" stroke-width="0.9" />
<line x1="226.50" y1="501.33" x2="229.50" y2="501.33" stroke="#231f20" stroke-width="0.9" />
<line x1="226.50" y1="496.78" x2="229.50" y2="496.78" stroke="#231f20" stroke-width="0.9" />
<line x1="224.80" y1="492.24" x2="229.50" y2="492.24" stroke="#231f20" stroke-width="1.1" />
<text transform="translate(221.00,495.44) scale(1.070,1)" font-size="10.5" text-anchor="end" fill="#231f20" stroke="#231f20" stroke-width="0.12" >30</text>
<line x1="226.50" y1="487.70" x2="229.50" y2="487.70" stroke="#231f20" stroke-width="0.9" />
<line x1="226.50" y1="483.15" x2="229.50" y2="483.15" stroke="#231f20" stroke-width="0.9" />
<line x1="226.50" y1="478.61" x2="229.50" y2="478.61" stroke="#231f20" stroke-width="0.9" />
<line x1="226.50" y1="474.06" x2="229.50" y2="474.06" stroke="#231f20" stroke-width="0.9" />
<line x1="224.80" y1="469.52" x2="229.50" y2="469.52" stroke="#231f20" stroke-width="1.1" />
<text transform="translate(221.00,472.72) scale(1.070,1)" font-size="10.5" text-anchor="end" fill="#231f20" stroke="#231f20" stroke-width="0.12" >40</text>
<line x1="226.50" y1="464.98" x2="229.50" y2="464.98" stroke="#231f20" stroke-width="0.9" />
<line x1="226.50" y1="460.43" x2="229.50" y2="460.43" stroke="#231f20" stroke-width="0.9" />
<line x1="226.50" y1="455.89" x2="229.50" y2="455.89" stroke="#231f20" stroke-width="0.9" />
<line x1="226.50" y1="451.34" x2="229.50" y2="451.34" stroke="#231f20" stroke-width="0.9" />
<line x1="224.80" y1="446.80" x2="229.50" y2="446.80" stroke="#231f20" stroke-width="1.1" />
<text transform="translate(221.00,450.00) scale(1.070,1)" font-size="10.5" text-anchor="end" fill="#231f20" stroke="#231f20" stroke-width="0.12" >50</text>
<line x1="229.00" y1="560.80" x2="305.40" y2="560.80" stroke="#231f20" stroke-width="1.35" />
<line x1="247.90" y1="560.80" x2="247.90" y2="565.80" stroke="#231f20" stroke-width="1.1" />
<line x1="286.30" y1="560.80" x2="286.30" y2="565.80" stroke="#231f20" stroke-width="1.1" />
<text transform="translate(201.50,504.40) rotate(-90)" font-size="12.0" text-anchor="middle" fill="#231f20" textLength="96.2" lengthAdjust="spacingAndGlyphs" stroke="#231f20" stroke-width="0.32">Anti-FVIII IgG2a (µg/ml)</text>
<line x1="246.60" y1="459.30" x2="285.80" y2="459.30" stroke="#444" stroke-width="1.3" />
<line x1="246.60" y1="455.50" x2="246.60" y2="463.20" stroke="#444" stroke-width="1.3" />
<line x1="285.80" y1="455.50" x2="285.80" y2="463.20" stroke="#444" stroke-width="1.3" />
<text transform="translate(264.60,454.60)" font-size="10.0" text-anchor="middle" fill="#333" stroke="#333" stroke-width="0.12" textLength="10.0" lengthAdjust="spacingAndGlyphs" >ns</text>
<circle cx="238.60" cy="561.00" r="3.5" fill="#c8102e" stroke="none" stroke-width="0"/>
<circle cx="240.60" cy="561.00" r="3.5" fill="#c8102e" stroke="none" stroke-width="0"/>
<circle cx="242.60" cy="561.00" r="3.5" fill="#c8102e" stroke="none" stroke-width="0"/>
<circle cx="244.60" cy="561.00" r="3.5" fill="#c8102e" stroke="none" stroke-width="0"/>
<circle cx="246.60" cy="561.00" r="3.5" fill="#c8102e" stroke="none" stroke-width="0"/>
<circle cx="248.60" cy="561.00" r="3.5" fill="#c8102e" stroke="none" stroke-width="0"/>
<circle cx="250.60" cy="561.00" r="3.5" fill="#c8102e" stroke="none" stroke-width="0"/>
<circle cx="252.60" cy="561.00" r="3.5" fill="#c8102e" stroke="none" stroke-width="0"/>
<circle cx="254.60" cy="561.00" r="3.5" fill="#c8102e" stroke="none" stroke-width="0"/>
<circle cx="256.60" cy="561.00" r="3.5" fill="#c8102e" stroke="none" stroke-width="0"/>
<circle cx="241.80" cy="559.60" r="3.5" fill="#c8102e" stroke="none" stroke-width="0"/>
<circle cx="254.20" cy="557.60" r="3.5" fill="#c8102e" stroke="none" stroke-width="0"/>
<circle cx="279.40" cy="557.00" r="3.3" fill="#fff" stroke="#0b4d8a" stroke-width="1.1"/>
<circle cx="292.90" cy="557.00" r="3.3" fill="#fff" stroke="#0b4d8a" stroke-width="1.1"/>
<rect x="273.0" y="556.7" width="26.0" height="7.9" rx="3.9" fill="#0b4d8a"/>
<line x1="376.80" y1="446.60" x2="376.80" y2="561.20" stroke="#231f20" stroke-width="1.35" />
<line x1="372.10" y1="560.70" x2="376.80" y2="560.70" stroke="#231f20" stroke-width="1.1" />
<text transform="translate(368.40,563.90) scale(1.070,1)" font-size="10.5" text-anchor="end" fill="#231f20" stroke="#231f20" stroke-width="0.12" >0</text>
<line x1="373.80" y1="556.16" x2="376.80" y2="556.16" stroke="#231f20" stroke-width="0.9" />
<line x1="373.80" y1="551.62" x2="376.80" y2="551.62" stroke="#231f20" stroke-width="0.9" />
<line x1="373.80" y1="547.08" x2="376.80" y2="547.08" stroke="#231f20" stroke-width="0.9" />
<line x1="373.80" y1="542.54" x2="376.80" y2="542.54" stroke="#231f20" stroke-width="0.9" />
<line x1="372.10" y1="538.00" x2="376.80" y2="538.00" stroke="#231f20" stroke-width="1.1" />
<text transform="translate(368.40,541.20) scale(1.070,1)" font-size="10.5" text-anchor="end" fill="#231f20" stroke="#231f20" stroke-width="0.12" >10</text>
<line x1="373.80" y1="533.46" x2="376.80" y2="533.46" stroke="#231f20" stroke-width="0.9" />
<line x1="373.80" y1="528.92" x2="376.80" y2="528.92" stroke="#231f20" stroke-width="0.9" />
<line x1="373.80" y1="524.38" x2="376.80" y2="524.38" stroke="#231f20" stroke-width="0.9" />
<line x1="373.80" y1="519.84" x2="376.80" y2="519.84" stroke="#231f20" stroke-width="0.9" />
<line x1="372.10" y1="515.30" x2="376.80" y2="515.30" stroke="#231f20" stroke-width="1.1" />
<text transform="translate(368.40,518.50) scale(1.070,1)" font-size="10.5" text-anchor="end" fill="#231f20" stroke="#231f20" stroke-width="0.12" >20</text>
<line x1="373.80" y1="510.76" x2="376.80" y2="510.76" stroke="#231f20" stroke-width="0.9" />
<line x1="373.80" y1="506.22" x2="376.80" y2="506.22" stroke="#231f20" stroke-width="0.9" />
<line x1="373.80" y1="501.68" x2="376.80" y2="501.68" stroke="#231f20" stroke-width="0.9" />
<line x1="373.80" y1="497.14" x2="376.80" y2="497.14" stroke="#231f20" stroke-width="0.9" />
<line x1="372.10" y1="492.60" x2="376.80" y2="492.60" stroke="#231f20" stroke-width="1.1" />
<text transform="translate(368.40,495.80) scale(1.070,1)" font-size="10.5" text-anchor="end" fill="#231f20" stroke="#231f20" stroke-width="0.12" >30</text>
<line x1="373.80" y1="488.06" x2="376.80" y2="488.06" stroke="#231f20" stroke-width="0.9" />
<line x1="373.80" y1="483.52" x2="376.80" y2="483.52" stroke="#231f20" stroke-width="0.9" />
<line x1="373.80" y1="478.98" x2="376.80" y2="478.98" stroke="#231f20" stroke-width="0.9" />
<line x1="373.80" y1="474.44" x2="376.80" y2="474.44" stroke="#231f20" stroke-width="0.9" />
<line x1="372.10" y1="469.90" x2="376.80" y2="469.90" stroke="#231f20" stroke-width="1.1" />
<text transform="translate(368.40,473.10) scale(1.070,1)" font-size="10.5" text-anchor="end" fill="#231f20" stroke="#231f20" stroke-width="0.12" >40</text>
<line x1="373.80" y1="465.36" x2="376.80" y2="465.36" stroke="#231f20" stroke-width="0.9" />
<line x1="373.80" y1="460.82" x2="376.80" y2="460.82" stroke="#231f20" stroke-width="0.9" />
<line x1="373.80" y1="456.28" x2="376.80" y2="456.28" stroke="#231f20" stroke-width="0.9" />
<line x1="373.80" y1="451.74" x2="376.80" y2="451.74" stroke="#231f20" stroke-width="0.9" />
<line x1="372.10" y1="447.20" x2="376.80" y2="447.20" stroke="#231f20" stroke-width="1.1" />
<text transform="translate(368.40,450.40) scale(1.070,1)" font-size="10.5" text-anchor="end" fill="#231f20" stroke="#231f20" stroke-width="0.12" >50</text>
<line x1="376.20" y1="560.50" x2="452.70" y2="560.50" stroke="#231f20" stroke-width="1.35" />
<line x1="395.20" y1="560.50" x2="395.20" y2="565.30" stroke="#231f20" stroke-width="1.1" />
<line x1="433.20" y1="560.50" x2="433.20" y2="565.30" stroke="#231f20" stroke-width="1.1" />
<text transform="translate(350.00,505.95) rotate(-90)" font-size="12.0" text-anchor="middle" fill="#231f20" textLength="120.7" lengthAdjust="spacingAndGlyphs" stroke="#231f20" stroke-width="0.32">Anti-FVIII IgG2b (x 10³ AU/ml)</text>
<line x1="394.50" y1="458.20" x2="433.60" y2="458.20" stroke="#444" stroke-width="1.3" />
<line x1="394.50" y1="453.90" x2="394.50" y2="462.20" stroke="#444" stroke-width="1.3" />
<line x1="433.60" y1="453.90" x2="433.60" y2="462.20" stroke="#444" stroke-width="1.3" />
<text transform="translate(412.50,453.60)" font-size="10.0" text-anchor="middle" fill="#333" stroke="#333" stroke-width="0.12" textLength="10.0" lengthAdjust="spacingAndGlyphs" >ns</text>
<circle cx="395.80" cy="514.50" r="3.5" fill="#c8102e" stroke="none" stroke-width="0"/>
<circle cx="390.10" cy="525.50" r="3.5" fill="#c8102e" stroke="none" stroke-width="0"/>
<circle cx="400.40" cy="524.70" r="3.5" fill="#c8102e" stroke="none" stroke-width="0"/>
<circle cx="398.80" cy="529.30" r="3.5" fill="#c8102e" stroke="none" stroke-width="0"/>
<circle cx="392.70" cy="534.80" r="3.5" fill="#c8102e" stroke="none" stroke-width="0"/>
<circle cx="386.00" cy="545.60" r="3.5" fill="#c8102e" stroke="none" stroke-width="0"/>
<circle cx="391.50" cy="545.50" r="3.5" fill="#c8102e" stroke="none" stroke-width="0"/>
<circle cx="395.00" cy="546.50" r="3.5" fill="#c8102e" stroke="none" stroke-width="0"/>
<circle cx="398.50" cy="545.50" r="3.5" fill="#c8102e" stroke="none" stroke-width="0"/>
<circle cx="402.50" cy="545.00" r="3.5" fill="#c8102e" stroke="none" stroke-width="0"/>
<circle cx="385.80" cy="549.50" r="3.5" fill="#c8102e" stroke="none" stroke-width="0"/>
<circle cx="390.00" cy="549.00" r="3.5" fill="#c8102e" stroke="none" stroke-width="0"/>
<circle cx="400.50" cy="549.00" r="3.5" fill="#c8102e" stroke="none" stroke-width="0"/>
<circle cx="404.30" cy="549.30" r="3.5" fill="#c8102e" stroke="none" stroke-width="0"/>
<circle cx="387.50" cy="553.50" r="3.5" fill="#c8102e" stroke="none" stroke-width="0"/>
<circle cx="402.50" cy="553.00" r="3.5" fill="#c8102e" stroke="none" stroke-width="0"/>
<circle cx="390.00" cy="557.00" r="3.5" fill="#c8102e" stroke="none" stroke-width="0"/>
<circle cx="396.00" cy="557.50" r="3.5" fill="#c8102e" stroke="none" stroke-width="0"/>
<circle cx="400.50" cy="556.00" r="3.5" fill="#c8102e" stroke="none" stroke-width="0"/>
<circle cx="395.30" cy="559.30" r="3.5" fill="#c8102e" stroke="none" stroke-width="0"/>
<ellipse cx="395.0" cy="552.7" rx="2.6" ry="1.9" fill="#fff"/>
<circle cx="391.40" cy="544.60" r="0.45" fill="#fff" stroke="none" stroke-width="0"/>
<circle cx="398.30" cy="544.60" r="0.45" fill="#fff" stroke="none" stroke-width="0"/>
<line x1="381.30" y1="546.10" x2="408.10" y2="546.10" stroke="#c8102e" stroke-width="1.3" />
<circle cx="425.80" cy="515.00" r="3.3" fill="none" stroke="#0b4d8a" stroke-width="1.0"/>
<circle cx="441.20" cy="511.20" r="3.3" fill="none" stroke="#0b4d8a" stroke-width="1.0"/>
<circle cx="433.50" cy="520.40" r="3.3" fill="none" stroke="#0b4d8a" stroke-width="1.0"/>
<circle cx="438.80" cy="528.40" r="3.3" fill="none" stroke="#0b4d8a" stroke-width="1.0"/>
<circle cx="428.50" cy="536.60" r="3.3" fill="none" stroke="#0b4d8a" stroke-width="1.0"/>
<circle cx="440.90" cy="539.30" r="3.3" fill="none" stroke="#0b4d8a" stroke-width="1.0"/>
<circle cx="425.00" cy="542.10" r="3.3" fill="none" stroke="#0b4d8a" stroke-width="1.0"/>
<circle cx="431.90" cy="547.50" r="3.3" fill="none" stroke="#0b4d8a" stroke-width="1.0"/>
<circle cx="436.80" cy="547.50" r="3.3" fill="none" stroke="#0b4d8a" stroke-width="1.0"/>
<circle cx="424.30" cy="550.80" r="3.3" fill="none" stroke="#0b4d8a" stroke-width="1.0"/>
<circle cx="429.90" cy="550.80" r="3.3" fill="none" stroke="#0b4d8a" stroke-width="1.0"/>
<circle cx="436.10" cy="550.80" r="3.3" fill="none" stroke="#0b4d8a" stroke-width="1.0"/>
<circle cx="442.30" cy="550.80" r="3.3" fill="none" stroke="#0b4d8a" stroke-width="1.0"/>
<circle cx="426.40" cy="555.00" r="3.3" fill="none" stroke="#0b4d8a" stroke-width="1.0"/>
<circle cx="432.60" cy="555.00" r="3.3" fill="none" stroke="#0b4d8a" stroke-width="1.0"/>
<circle cx="438.90" cy="555.00" r="3.3" fill="none" stroke="#0b4d8a" stroke-width="1.0"/>
<circle cx="429.20" cy="559.00" r="3.3" fill="none" stroke="#0b4d8a" stroke-width="1.0"/>
<circle cx="436.10" cy="559.00" r="3.3" fill="none" stroke="#0b4d8a" stroke-width="1.0"/>
<circle cx="432.60" cy="561.50" r="3.3" fill="none" stroke="#0b4d8a" stroke-width="1.0"/>
<line x1="420.20" y1="545.10" x2="446.80" y2="545.10" stroke="#0b4d8a" stroke-width="1.3" />
<line x1="426.40" y1="541.80" x2="440.20" y2="541.80" stroke="#0b4d8a" stroke-width="1.0" />
<line x1="433.30" y1="541.80" x2="433.30" y2="545.10" stroke="#0b4d8a" stroke-width="1.0" />
<text transform="translate(10.20,603.80) scale(0.972,1)" font-size="15.41" text-anchor="start" fill="#000" font-weight="bold" stroke="#000" stroke-width="0.12" >E</text>
<line x1="68.60" y1="601.50" x2="68.60" y2="716.40" stroke="#231f20" stroke-width="1.35" />
<line x1="68.00" y1="715.80" x2="183.40" y2="715.80" stroke="#231f20" stroke-width="1.35" />
<line x1="64.20" y1="715.80" x2="68.60" y2="715.80" stroke="#231f20" stroke-width="1.1" />
<text transform="translate(60.25,719.30) scale(1.025,1)" font-size="10.6" text-anchor="end" fill="#231f20" stroke="#231f20" stroke-width="0.12" >0.1</text>
<line x1="66.00" y1="707.24" x2="68.60" y2="707.24" stroke="#231f20" stroke-width="0.7" />
<line x1="66.00" y1="702.23" x2="68.60" y2="702.23" stroke="#231f20" stroke-width="0.7" />
<line x1="66.00" y1="698.67" x2="68.60" y2="698.67" stroke="#231f20" stroke-width="0.7" />
<line x1="66.00" y1="695.91" x2="68.60" y2="695.91" stroke="#231f20" stroke-width="0.7" />
<line x1="66.00" y1="693.66" x2="68.60" y2="693.66" stroke="#231f20" stroke-width="0.7" />
<line x1="66.00" y1="691.76" x2="68.60" y2="691.76" stroke="#231f20" stroke-width="0.7" />
<line x1="66.00" y1="690.11" x2="68.60" y2="690.11" stroke="#231f20" stroke-width="0.7" />
<line x1="66.00" y1="688.65" x2="68.60" y2="688.65" stroke="#231f20" stroke-width="0.7" />
<line x1="64.20" y1="687.35" x2="68.60" y2="687.35" stroke="#231f20" stroke-width="1.1" />
<text transform="translate(60.25,690.85) scale(1.025,1)" font-size="10.6" text-anchor="end" fill="#231f20" stroke="#231f20" stroke-width="0.12" >1</text>
<line x1="66.00" y1="678.79" x2="68.60" y2="678.79" stroke="#231f20" stroke-width="0.7" />
<line x1="66.00" y1="673.78" x2="68.60" y2="673.78" stroke="#231f20" stroke-width="0.7" />
<line x1="66.00" y1="670.22" x2="68.60" y2="670.22" stroke="#231f20" stroke-width="0.7" />
<line x1="66.00" y1="667.46" x2="68.60" y2="667.46" stroke="#231f20" stroke-width="0.7" />
<line x1="66.00" y1="665.21" x2="68.60" y2="665.21" stroke="#231f20" stroke-width="0.7" />
<line x1="66.00" y1="663.31" x2="68.60" y2="663.31" stroke="#231f20" stroke-width="0.7" />
<line x1="66.00" y1="661.66" x2="68.60" y2="661.66" stroke="#231f20" stroke-width="0.7" />
<line x1="66.00" y1="660.20" x2="68.60" y2="660.20" stroke="#231f20" stroke-width="0.7" />
<line x1="64.20" y1="658.90" x2="68.60" y2="658.90" stroke="#231f20" stroke-width="1.1" />
<text transform="translate(60.25,662.40) scale(1.025,1)" font-size="10.6" text-anchor="end" fill="#231f20" stroke="#231f20" stroke-width="0.12" >10</text>
<line x1="66.00" y1="650.34" x2="68.60" y2="650.34" stroke="#231f20" stroke-width="0.7" />
<line x1="66.00" y1="645.33" x2="68.60" y2="645.33" stroke="#231f20" stroke-width="0.7" />
<line x1="66.00" y1="641.77" x2="68.60" y2="641.77" stroke="#231f20" stroke-width="0.7" />
<line x1="66.00" y1="639.01" x2="68.60" y2="639.01" stroke="#231f20" stroke-width="0.7" />
<line x1="66.00" y1="636.76" x2="68.60" y2="636.76" stroke="#231f20" stroke-width="0.7" />
<line x1="66.00" y1="634.86" x2="68.60" y2="634.86" stroke="#231f20" stroke-width="0.7" />
<line x1="66.00" y1="633.21" x2="68.60" y2="633.21" stroke="#231f20" stroke-width="0.7" />
<line x1="66.00" y1="631.75" x2="68.60" y2="631.75" stroke="#231f20" stroke-width="0.7" />
<line x1="64.20" y1="630.45" x2="68.60" y2="630.45" stroke="#231f20" stroke-width="1.1" />
<text transform="translate(60.25,633.95) scale(1.025,1)" font-size="10.6" text-anchor="end" fill="#231f20" stroke="#231f20" stroke-width="0.12" >100</text>
<line x1="66.00" y1="621.89" x2="68.60" y2="621.89" stroke="#231f20" stroke-width="0.7" />
<line x1="66.00" y1="616.88" x2="68.60" y2="616.88" stroke="#231f20" stroke-width="0.7" />
<line x1="66.00" y1="613.32" x2="68.60" y2="613.32" stroke="#231f20" stroke-width="0.7" />
<line x1="66.00" y1="610.56" x2="68.60" y2="610.56" stroke="#231f20" stroke-width="0.7" />
<line x1="66.00" y1="608.31" x2="68.60" y2="608.31" stroke="#231f20" stroke-width="0.7" />
<line x1="66.00" y1="606.41" x2="68.60" y2="606.41" stroke="#231f20" stroke-width="0.7" />
<line x1="66.00" y1="604.76" x2="68.60" y2="604.76" stroke="#231f20" stroke-width="0.7" />
<line x1="66.00" y1="603.30" x2="68.60" y2="603.30" stroke="#231f20" stroke-width="0.7" />
<line x1="64.20" y1="602.00" x2="68.60" y2="602.00" stroke="#231f20" stroke-width="1.1" />
<text transform="translate(60.25,605.50) scale(1.025,1)" font-size="10.6" text-anchor="end" fill="#231f20" stroke="#231f20" stroke-width="0.12" >1000</text>
<line x1="68.60" y1="715.80" x2="68.60" y2="719.40" stroke="#231f20" stroke-width="1.1" />
<text transform="translate(66.70,731.80)" font-size="10.6" text-anchor="middle" fill="#231f20" stroke="#231f20" stroke-width="0.12" >0.1</text>
<line x1="77.24" y1="715.80" x2="77.24" y2="718.30" stroke="#231f20" stroke-width="0.7" />
<line x1="82.29" y1="715.80" x2="82.29" y2="718.30" stroke="#231f20" stroke-width="0.7" />
<line x1="85.88" y1="715.80" x2="85.88" y2="718.30" stroke="#231f20" stroke-width="0.7" />
<line x1="88.66" y1="715.80" x2="88.66" y2="718.30" stroke="#231f20" stroke-width="0.7" />
<line x1="90.93" y1="715.80" x2="90.93" y2="718.30" stroke="#231f20" stroke-width="0.7" />
<line x1="92.85" y1="715.80" x2="92.85" y2="718.30" stroke="#231f20" stroke-width="0.7" />
<line x1="94.52" y1="715.80" x2="94.52" y2="718.30" stroke="#231f20" stroke-width="0.7" />
<line x1="95.99" y1="715.80" x2="95.99" y2="718.30" stroke="#231f20" stroke-width="0.7" />
<line x1="97.30" y1="715.80" x2="97.30" y2="719.40" stroke="#231f20" stroke-width="1.1" />
<text transform="translate(97.20,731.80)" font-size="10.6" text-anchor="middle" fill="#231f20" stroke="#231f20" stroke-width="0.12" >1</text>
<line x1="105.94" y1="715.80" x2="105.94" y2="718.30" stroke="#231f20" stroke-width="0.7" />
<line x1="110.99" y1="715.80" x2="110.99" y2="718.30" stroke="#231f20" stroke-width="0.7" />
<line x1="114.58" y1="715.80" x2="114.58" y2="718.30" stroke="#231f20" stroke-width="0.7" />
<line x1="117.36" y1="715.80" x2="117.36" y2="718.30" stroke="#231f20" stroke-width="0.7" />
<line x1="119.63" y1="715.80" x2="119.63" y2="718.30" stroke="#231f20" stroke-width="0.7" />
<line x1="121.55" y1="715.80" x2="121.55" y2="718.30" stroke="#231f20" stroke-width="0.7" />
<line x1="123.22" y1="715.80" x2="123.22" y2="718.30" stroke="#231f20" stroke-width="0.7" />
<line x1="124.69" y1="715.80" x2="124.69" y2="718.30" stroke="#231f20" stroke-width="0.7" />
<line x1="126.00" y1="715.80" x2="126.00" y2="719.40" stroke="#231f20" stroke-width="1.1" />
<text transform="translate(125.50,731.80)" font-size="10.6" text-anchor="middle" fill="#231f20" stroke="#231f20" stroke-width="0.12" >10</text>
<line x1="134.64" y1="715.80" x2="134.64" y2="718.30" stroke="#231f20" stroke-width="0.7" />
<line x1="139.69" y1="715.80" x2="139.69" y2="718.30" stroke="#231f20" stroke-width="0.7" />
<line x1="143.28" y1="715.80" x2="143.28" y2="718.30" stroke="#231f20" stroke-width="0.7" />
<line x1="146.06" y1="715.80" x2="146.06" y2="718.30" stroke="#231f20" stroke-width="0.7" />
<line x1="148.33" y1="715.80" x2="148.33" y2="718.30" stroke="#231f20" stroke-width="0.7" />
<line x1="150.25" y1="715.80" x2="150.25" y2="718.30" stroke="#231f20" stroke-width="0.7" />
<line x1="151.92" y1="715.80" x2="151.92" y2="718.30" stroke="#231f20" stroke-width="0.7" />
<line x1="153.39" y1="715.80" x2="153.39" y2="718.30" stroke="#231f20" stroke-width="0.7" />
<line x1="154.70" y1="715.80" x2="154.70" y2="719.40" stroke="#231f20" stroke-width="1.1" />
<text transform="translate(155.70,731.80)" font-size="10.6" text-anchor="middle" fill="#231f20" stroke="#231f20" stroke-width="0.12" >100</text>
<line x1="163.34" y1="715.80" x2="163.34" y2="718.30" stroke="#231f20" stroke-width="0.7" />
<line x1="168.39" y1="715.80" x2="168.39" y2="718.30" stroke="#231f20" stroke-width="0.7" />
<line x1="171.98" y1="715.80" x2="171.98" y2="718.30" stroke="#231f20" stroke-width="0.7" />
<line x1="174.76" y1="715.80" x2="174.76" y2="718.30" stroke="#231f20" stroke-width="0.7" />
<line x1="177.03" y1="715.80" x2="177.03" y2="718.30" stroke="#231f20" stroke-width="0.7" />
<line x1="178.95" y1="715.80" x2="178.95" y2="718.30" stroke="#231f20" stroke-width="0.7" />
<line x1="180.62" y1="715.80" x2="180.62" y2="718.30" stroke="#231f20" stroke-width="0.7" />
<line x1="182.09" y1="715.80" x2="182.09" y2="718.30" stroke="#231f20" stroke-width="0.7" />
<line x1="183.40" y1="715.80" x2="183.40" y2="719.40" stroke="#231f20" stroke-width="1.1" />
<text transform="translate(185.30,731.80)" font-size="10.6" text-anchor="middle" fill="#231f20" stroke="#231f20" stroke-width="0.12" >1000</text>
<text transform="translate(125.85,747.45)" font-size="12.2" text-anchor="middle" fill="#231f20" textLength="88.4" lengthAdjust="spacingAndGlyphs" stroke="#231f20" stroke-width="0.32">FVIII inhibitors (log10)</text>
<text transform="translate(30.60,658.95) rotate(-90)" font-size="12.0" text-anchor="middle" fill="#231f20" textLength="89.3" lengthAdjust="spacingAndGlyphs" stroke="#231f20" stroke-width="0.32">Anti-FVIII IgG1 (log10)</text>
<text transform="translate(75.40,696.80) scale(1.010,1)" font-size="10.4" text-anchor="start" fill="#231f20" stroke="#231f20" stroke-width="0.12" >r = 0.70***</text>
<text transform="translate(75.40,710.00) scale(1.070,1)" font-size="10.4" text-anchor="start" fill="#231f20" stroke="#231f20" stroke-width="0.12" >0.3664-0.8772</text>
<circle cx="131.20" cy="634.90" r="3.65" fill="#c8102e" stroke="none" stroke-width="0"/>
<circle cx="130.00" cy="656.90" r="3.65" fill="#c8102e" stroke="none" stroke-width="0"/>
<circle cx="123.10" cy="664.60" r="3.65" fill="#c8102e" stroke="none" stroke-width="0"/>
<circle cx="132.80" cy="665.70" r="3.65" fill="#c8102e" stroke="none" stroke-width="0"/>
<circle cx="142.30" cy="639.70" r="3.65" fill="#c8102e" stroke="none" stroke-width="0"/>
<circle cx="138.80" cy="643.50" r="3.65" fill="#c8102e" stroke="none" stroke-width="0"/>
<circle cx="139.60" cy="645.80" r="3.65" fill="#c8102e" stroke="none" stroke-width="0"/>
<circle cx="153.80" cy="644.70" r="3.65" fill="#c8102e" stroke="none" stroke-width="0"/>
<circle cx="160.80" cy="642.00" r="3.65" fill="#c8102e" stroke="none" stroke-width="0"/>
<circle cx="151.90" cy="636.60" r="3.65" fill="#c8102e" stroke="none" stroke-width="0"/>
<circle cx="157.30" cy="634.30" r="3.65" fill="#c8102e" stroke="none" stroke-width="0"/>
<circle cx="143.80" cy="629.30" r="3.65" fill="#c8102e" stroke="none" stroke-width="0"/>
<circle cx="148.80" cy="630.50" r="3.65" fill="#c8102e" stroke="none" stroke-width="0"/>
<circle cx="153.50" cy="632.40" r="3.65" fill="#c8102e" stroke="none" stroke-width="0"/>
<circle cx="158.10" cy="629.70" r="3.65" fill="#c8102e" stroke="none" stroke-width="0"/>
<circle cx="163.50" cy="627.80" r="3.65" fill="#c8102e" stroke="none" stroke-width="0"/>
<circle cx="159.50" cy="621.60" r="3.65" fill="#c8102e" stroke="none" stroke-width="0"/>
<circle cx="167.70" cy="619.30" r="3.65" fill="#c8102e" stroke="none" stroke-width="0"/>
<line x1="261.60" y1="601.50" x2="261.60" y2="716.80" stroke="#231f20" stroke-width="1.35" />
<line x1="261.00" y1="716.20" x2="377.00" y2="716.20" stroke="#231f20" stroke-width="1.35" />
<line x1="257.20" y1="716.20" x2="261.60" y2="716.20" stroke="#231f20" stroke-width="1.1" />
<text transform="translate(253.25,719.70) scale(1.025,1)" font-size="10.6" text-anchor="end" fill="#231f20" stroke="#231f20" stroke-width="0.12" >0.1</text>
<line x1="259.00" y1="707.62" x2="261.60" y2="707.62" stroke="#231f20" stroke-width="0.7" />
<line x1="259.00" y1="702.60" x2="261.60" y2="702.60" stroke="#231f20" stroke-width="0.7" />
<line x1="259.00" y1="699.04" x2="261.60" y2="699.04" stroke="#231f20" stroke-width="0.7" />
<line x1="259.00" y1="696.28" x2="261.60" y2="696.28" stroke="#231f20" stroke-width="0.7" />
<line x1="259.00" y1="694.02" x2="261.60" y2="694.02" stroke="#231f20" stroke-width="0.7" />
<line x1="259.00" y1="692.11" x2="261.60" y2="692.11" stroke="#231f20" stroke-width="0.7" />
<line x1="259.00" y1="690.46" x2="261.60" y2="690.46" stroke="#231f20" stroke-width="0.7" />
<line x1="259.00" y1="689.00" x2="261.60" y2="689.00" stroke="#231f20" stroke-width="0.7" />
<line x1="257.20" y1="687.70" x2="261.60" y2="687.70" stroke="#231f20" stroke-width="1.1" />
<text transform="translate(253.25,691.20) scale(1.025,1)" font-size="10.6" text-anchor="end" fill="#231f20" stroke="#231f20" stroke-width="0.12" >1</text>
<line x1="259.00" y1="679.12" x2="261.60" y2="679.12" stroke="#231f20" stroke-width="0.7" />
<line x1="259.00" y1="674.10" x2="261.60" y2="674.10" stroke="#231f20" stroke-width="0.7" />
<line x1="259.00" y1="670.54" x2="261.60" y2="670.54" stroke="#231f20" stroke-width="0.7" />
<line x1="259.00" y1="667.78" x2="261.60" y2="667.78" stroke="#231f20" stroke-width="0.7" />
<line x1="259.00" y1="665.52" x2="261.60" y2="665.52" stroke="#231f20" stroke-width="0.7" />
<line x1="259.00" y1="663.61" x2="261.60" y2="663.61" stroke="#231f20" stroke-width="0.7" />
<line x1="259.00" y1="661.96" x2="261.60" y2="661.96" stroke="#231f20" stroke-width="0.7" />
<line x1="259.00" y1="660.50" x2="261.60" y2="660.50" stroke="#231f20" stroke-width="0.7" />
<line x1="257.20" y1="659.20" x2="261.60" y2="659.20" stroke="#231f20" stroke-width="1.1" />
<text transform="translate(253.25,662.70) scale(1.025,1)" font-size="10.6" text-anchor="end" fill="#231f20" stroke="#231f20" stroke-width="0.12" >10</text>
<line x1="259.00" y1="650.62" x2="261.60" y2="650.62" stroke="#231f20" stroke-width="0.7" />
<line x1="259.00" y1="645.60" x2="261.60" y2="645.60" stroke="#231f20" stroke-width="0.7" />
<line x1="259.00" y1="642.04" x2="261.60" y2="642.04" stroke="#231f20" stroke-width="0.7" />
<line x1="259.00" y1="639.28" x2="261.60" y2="639.28" stroke="#231f20" stroke-width="0.7" />
<line x1="259.00" y1="637.02" x2="261.60" y2="637.02" stroke="#231f20" stroke-width="0.7" />
<line x1="259.00" y1="635.11" x2="261.60" y2="635.11" stroke="#231f20" stroke-width="0.7" />
<line x1="259.00" y1="633.46" x2="261.60" y2="633.46" stroke="#231f20" stroke-width="0.7" />
<line x1="259.00" y1="632.00" x2="261.60" y2="632.00" stroke="#231f20" stroke-width="0.7" />
<line x1="257.20" y1="630.70" x2="261.60" y2="630.70" stroke="#231f20" stroke-width="1.1" />
<text transform="translate(253.25,634.20) scale(1.025,1)" font-size="10.6" text-anchor="end" fill="#231f20" stroke="#231f20" stroke-width="0.12" >100</text>
<line x1="259.00" y1="622.12" x2="261.60" y2="622.12" stroke="#231f20" stroke-width="0.7" />
<line x1="259.00" y1="617.10" x2="261.60" y2="617.10" stroke="#231f20" stroke-width="0.7" />
<line x1="259.00" y1="613.54" x2="261.60" y2="613.54" stroke="#231f20" stroke-width="0.7" />
<line x1="259.00" y1="610.78" x2="261.60" y2="610.78" stroke="#231f20" stroke-width="0.7" />
<line x1="259.00" y1="608.52" x2="261.60" y2="608.52" stroke="#231f20" stroke-width="0.7" />
<line x1="259.00" y1="606.61" x2="261.60" y2="606.61" stroke="#231f20" stroke-width="0.7" />
<line x1="259.00" y1="604.96" x2="261.60" y2="604.96" stroke="#231f20" stroke-width="0.7" />
<line x1="259.00" y1="603.50" x2="261.60" y2="603.50" stroke="#231f20" stroke-width="0.7" />
<line x1="257.20" y1="602.20" x2="261.60" y2="602.20" stroke="#231f20" stroke-width="1.1" />
<text transform="translate(253.25,605.70) scale(1.025,1)" font-size="10.6" text-anchor="end" fill="#231f20" stroke="#231f20" stroke-width="0.12" >1000</text>
<line x1="261.60" y1="716.20" x2="261.60" y2="719.80" stroke="#231f20" stroke-width="1.1" />
<text transform="translate(261.80,731.80)" font-size="10.6" text-anchor="middle" fill="#231f20" stroke="#231f20" stroke-width="0.12" >0.1</text>
<line x1="270.24" y1="716.20" x2="270.24" y2="718.70" stroke="#231f20" stroke-width="0.7" />
<line x1="275.29" y1="716.20" x2="275.29" y2="718.70" stroke="#231f20" stroke-width="0.7" />
<line x1="278.88" y1="716.20" x2="278.88" y2="718.70" stroke="#231f20" stroke-width="0.7" />
<line x1="281.66" y1="716.20" x2="281.66" y2="718.70" stroke="#231f20" stroke-width="0.7" />
<line x1="283.93" y1="716.20" x2="283.93" y2="718.70" stroke="#231f20" stroke-width="0.7" />
<line x1="285.85" y1="716.20" x2="285.85" y2="718.70" stroke="#231f20" stroke-width="0.7" />
<line x1="287.52" y1="716.20" x2="287.52" y2="718.70" stroke="#231f20" stroke-width="0.7" />
<line x1="288.99" y1="716.20" x2="288.99" y2="718.70" stroke="#231f20" stroke-width="0.7" />
<line x1="290.30" y1="716.20" x2="290.30" y2="719.80" stroke="#231f20" stroke-width="1.1" />
<text transform="translate(290.40,731.80)" font-size="10.6" text-anchor="middle" fill="#231f20" stroke="#231f20" stroke-width="0.12" >1</text>
<line x1="298.94" y1="716.20" x2="298.94" y2="718.70" stroke="#231f20" stroke-width="0.7" />
<line x1="303.99" y1="716.20" x2="303.99" y2="718.70" stroke="#231f20" stroke-width="0.7" />
<line x1="307.58" y1="716.20" x2="307.58" y2="718.70" stroke="#231f20" stroke-width="0.7" />
<line x1="310.36" y1="716.20" x2="310.36" y2="718.70" stroke="#231f20" stroke-width="0.7" />
<line x1="312.63" y1="716.20" x2="312.63" y2="718.70" stroke="#231f20" stroke-width="0.7" />
<line x1="314.55" y1="716.20" x2="314.55" y2="718.70" stroke="#231f20" stroke-width="0.7" />
<line x1="316.22" y1="716.20" x2="316.22" y2="718.70" stroke="#231f20" stroke-width="0.7" />
<line x1="317.69" y1="716.20" x2="317.69" y2="718.70" stroke="#231f20" stroke-width="0.7" />
<line x1="319.00" y1="716.20" x2="319.00" y2="719.80" stroke="#231f20" stroke-width="1.1" />
<text transform="translate(320.70,731.80)" font-size="10.6" text-anchor="middle" fill="#231f20" stroke="#231f20" stroke-width="0.12" >10</text>
<line x1="327.64" y1="716.20" x2="327.64" y2="718.70" stroke="#231f20" stroke-width="0.7" />
<line x1="332.69" y1="716.20" x2="332.69" y2="718.70" stroke="#231f20" stroke-width="0.7" />
<line x1="336.28" y1="716.20" x2="336.28" y2="718.70" stroke="#231f20" stroke-width="0.7" />
<line x1="339.06" y1="716.20" x2="339.06" y2="718.70" stroke="#231f20" stroke-width="0.7" />
<line x1="341.33" y1="716.20" x2="341.33" y2="718.70" stroke="#231f20" stroke-width="0.7" />
<line x1="343.25" y1="716.20" x2="343.25" y2="718.70" stroke="#231f20" stroke-width="0.7" />
<line x1="344.92" y1="716.20" x2="344.92" y2="718.70" stroke="#231f20" stroke-width="0.7" />
<line x1="346.39" y1="716.20" x2="346.39" y2="718.70" stroke="#231f20" stroke-width="0.7" />
<line x1="347.70" y1="716.20" x2="347.70" y2="719.80" stroke="#231f20" stroke-width="1.1" />
<text transform="translate(348.90,731.80)" font-size="10.6" text-anchor="middle" fill="#231f20" stroke="#231f20" stroke-width="0.12" >100</text>
<line x1="356.34" y1="716.20" x2="356.34" y2="718.70" stroke="#231f20" stroke-width="0.7" />
<line x1="361.39" y1="716.20" x2="361.39" y2="718.70" stroke="#231f20" stroke-width="0.7" />
<line x1="364.98" y1="716.20" x2="364.98" y2="718.70" stroke="#231f20" stroke-width="0.7" />
<line x1="367.76" y1="716.20" x2="367.76" y2="718.70" stroke="#231f20" stroke-width="0.7" />
<line x1="370.03" y1="716.20" x2="370.03" y2="718.70" stroke="#231f20" stroke-width="0.7" />
<line x1="371.95" y1="716.20" x2="371.95" y2="718.70" stroke="#231f20" stroke-width="0.7" />
<line x1="373.62" y1="716.20" x2="373.62" y2="718.70" stroke="#231f20" stroke-width="0.7" />
<line x1="375.09" y1="716.20" x2="375.09" y2="718.70" stroke="#231f20" stroke-width="0.7" />
<line x1="376.40" y1="716.20" x2="376.40" y2="719.80" stroke="#231f20" stroke-width="1.1" />
<text transform="translate(377.20,731.80)" font-size="10.6" text-anchor="middle" fill="#231f20" stroke="#231f20" stroke-width="0.12" >1000</text>
<text transform="translate(319.35,747.45)" font-size="12.2" text-anchor="middle" fill="#231f20" textLength="88.4" lengthAdjust="spacingAndGlyphs" stroke="#231f20" stroke-width="0.32">FVIII inhibitors (log10)</text>
<text transform="translate(225.60,658.55) rotate(-90)" font-size="12.0" text-anchor="middle" fill="#231f20" textLength="89.7" lengthAdjust="spacingAndGlyphs" stroke="#231f20" stroke-width="0.32">Anti-FVIII IgG1 (log10)</text>
<text transform="translate(270.00,697.60) scale(1.054,1)" font-size="10.4" text-anchor="start" fill="#231f20" stroke="#231f20" stroke-width="0.12" >r = 0.03 ns</text>
<text transform="translate(270.00,710.80) scale(1.066,1)" font-size="10.4" text-anchor="start" fill="#231f20" stroke="#231f20" stroke-width="0.12" >-0.4302-0.4768</text>
<circle cx="283.00" cy="644.00" r="3.1" fill="none" stroke="#0b4d8a" stroke-width="1.15"/>
<circle cx="317.90" cy="636.90" r="3.1" fill="none" stroke="#0b4d8a" stroke-width="1.15"/>
<circle cx="315.00" cy="645.00" r="3.1" fill="none" stroke="#0b4d8a" stroke-width="1.15"/>
<circle cx="317.30" cy="656.00" r="3.1" fill="none" stroke="#0b4d8a" stroke-width="1.15"/>
<circle cx="314.10" cy="660.90" r="3.1" fill="none" stroke="#0b4d8a" stroke-width="1.15"/>
<circle cx="347.30" cy="667.50" r="3.1" fill="none" stroke="#0b4d8a" stroke-width="1.15"/>
<circle cx="335.20" cy="626.00" r="3.1" fill="none" stroke="#0b4d8a" stroke-width="1.15"/>
<circle cx="339.20" cy="625.40" r="3.1" fill="none" stroke="#0b4d8a" stroke-width="1.15"/>
<circle cx="339.80" cy="630.00" r="3.1" fill="none" stroke="#0b4d8a" stroke-width="1.15"/>
<circle cx="332.50" cy="634.00" r="3.1" fill="none" stroke="#0b4d8a" stroke-width="1.15"/>
<circle cx="341.50" cy="634.60" r="3.1" fill="none" stroke="#0b4d8a" stroke-width="1.15"/>
<circle cx="346.10" cy="640.10" r="3.1" fill="none" stroke="#0b4d8a" stroke-width="1.15"/>
<circle cx="327.70" cy="639.80" r="3.1" fill="none" stroke="#0b4d8a" stroke-width="1.15"/>
<circle cx="328.80" cy="642.10" r="3.1" fill="none" stroke="#0b4d8a" stroke-width="1.15"/>
<circle cx="331.70" cy="645.60" r="3.1" fill="none" stroke="#0b4d8a" stroke-width="1.15"/>
<circle cx="332.90" cy="648.50" r="3.1" fill="none" stroke="#0b4d8a" stroke-width="1.15"/>
<circle cx="336.90" cy="650.20" r="3.1" fill="none" stroke="#0b4d8a" stroke-width="1.15"/>
<circle cx="342.10" cy="648.50" r="3.1" fill="none" stroke="#0b4d8a" stroke-width="1.15"/>
<circle cx="342.40" cy="652.50" r="3.1" fill="none" stroke="#0b4d8a" stroke-width="1.15"/>
<circle cx="337.50" cy="627.50" r="3.1" fill="none" stroke="#0b4d8a" stroke-width="1.15"/>
</svg>
</body></html>
